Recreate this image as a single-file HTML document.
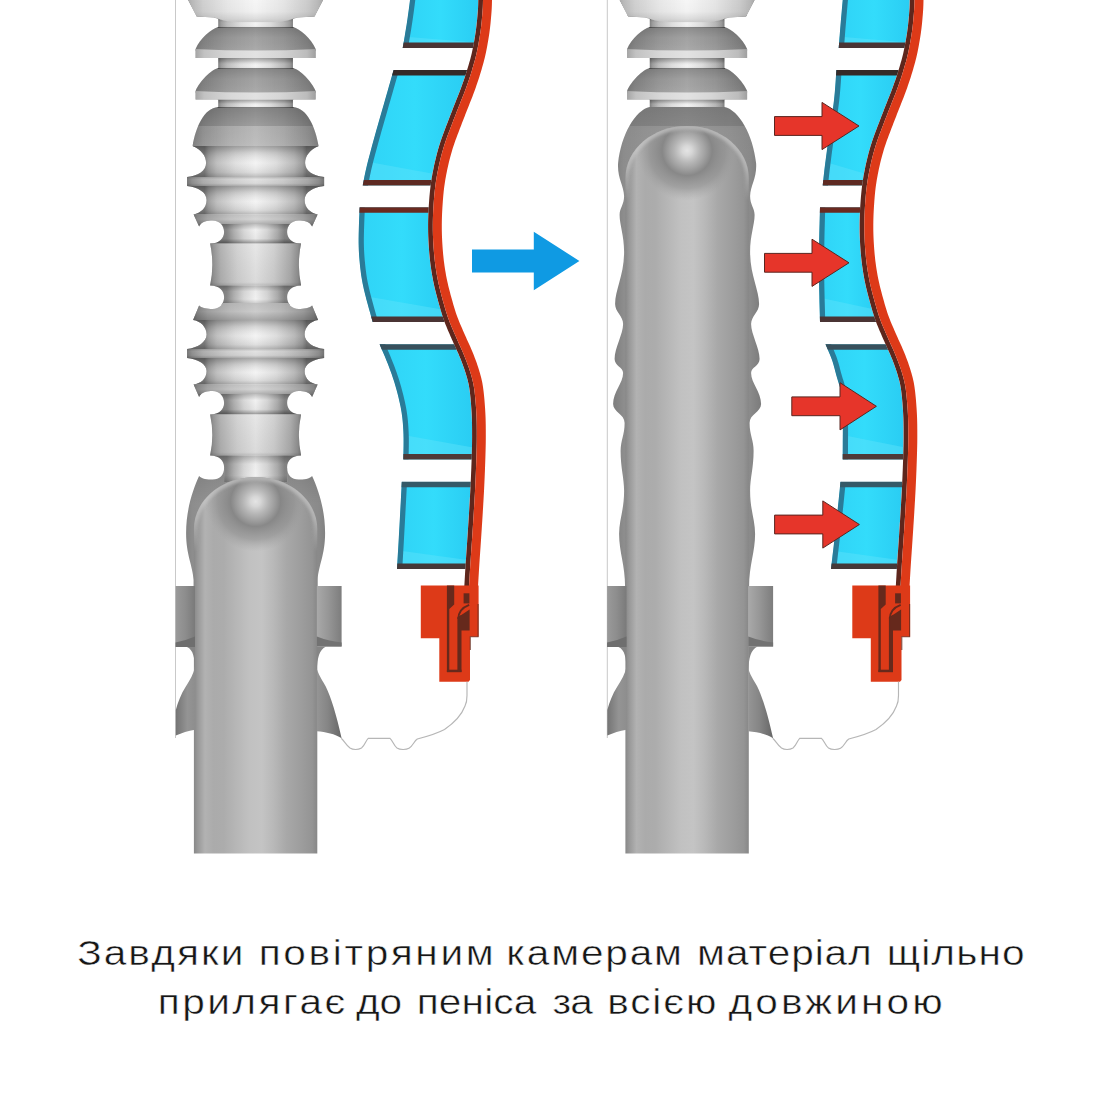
<!DOCTYPE html>
<html lang="uk"><head><meta charset="utf-8"><title>diagram</title>
<style>
html,body{margin:0;padding:0;background:#fff;}
body{width:1100px;height:1100px;position:relative;overflow:hidden;font-family:"Liberation Sans",sans-serif;}
svg{position:absolute;left:0;top:0;display:block;}
.cap{position:absolute;left:0;width:1100px;text-align:center;color:#151515;font-size:35px;line-height:40px;white-space:nowrap;}
#l1{top:933px;}
#l2{top:982px;}
#l1 span,#l2 span{display:inline-block;}
</style></head><body>
<svg width="1100" height="1100" viewBox="0 0 1100 1100">
<defs>
<filter id="blur2" x="-10%" y="-10%" width="120%" height="120%"><feGaussianBlur stdDeviation="1.6"/></filter>
<linearGradient id="LgW" gradientUnits="userSpaceOnUse" x1="186.6" y1="0" x2="324.6" y2="0"><stop offset="0" stop-color="#7e7e7e"/><stop offset="0.04" stop-color="#9c9c9c"/><stop offset="0.12" stop-color="#bcbcbc"/><stop offset="0.3" stop-color="#dedede"/><stop offset="0.5" stop-color="#f3f3f3"/><stop offset="0.7" stop-color="#dcdcdc"/><stop offset="0.88" stop-color="#b6b6b6"/><stop offset="0.96" stop-color="#989898"/><stop offset="1" stop-color="#7a7a7a"/></linearGradient>
<linearGradient id="LgM" gradientUnits="userSpaceOnUse" x1="209.6" y1="0" x2="301.6" y2="0"><stop offset="0" stop-color="#7e7e7e"/><stop offset="0.04" stop-color="#9c9c9c"/><stop offset="0.12" stop-color="#bcbcbc"/><stop offset="0.3" stop-color="#dedede"/><stop offset="0.5" stop-color="#f3f3f3"/><stop offset="0.7" stop-color="#dcdcdc"/><stop offset="0.88" stop-color="#b6b6b6"/><stop offset="0.96" stop-color="#989898"/><stop offset="1" stop-color="#7a7a7a"/></linearGradient>
<linearGradient id="LgN" gradientUnits="userSpaceOnUse" x1="218.1" y1="0" x2="293.1" y2="0"><stop offset="0" stop-color="#7e7e7e"/><stop offset="0.04" stop-color="#9c9c9c"/><stop offset="0.12" stop-color="#bcbcbc"/><stop offset="0.3" stop-color="#dedede"/><stop offset="0.5" stop-color="#f3f3f3"/><stop offset="0.7" stop-color="#dcdcdc"/><stop offset="0.88" stop-color="#b6b6b6"/><stop offset="0.96" stop-color="#989898"/><stop offset="1" stop-color="#7a7a7a"/></linearGradient>
<linearGradient id="LgN2" gradientUnits="userSpaceOnUse" x1="223.6" y1="0" x2="287.6" y2="0"><stop offset="0" stop-color="#858585"/><stop offset="0.05" stop-color="#8a8a8a"/><stop offset="0.16" stop-color="#b2b2b2"/><stop offset="0.32" stop-color="#dcdcdc"/><stop offset="0.5" stop-color="#f6f6f6"/><stop offset="0.68" stop-color="#dadada"/><stop offset="0.84" stop-color="#b0b0b0"/><stop offset="0.95" stop-color="#888888"/><stop offset="1" stop-color="#848484"/></linearGradient>
<linearGradient id="LgG" gradientUnits="userSpaceOnUse" x1="204.6" y1="0" x2="306.6" y2="0"><stop offset="0" stop-color="#7e7e7e"/><stop offset="0.04" stop-color="#9c9c9c"/><stop offset="0.12" stop-color="#bcbcbc"/><stop offset="0.3" stop-color="#dedede"/><stop offset="0.5" stop-color="#f3f3f3"/><stop offset="0.7" stop-color="#dcdcdc"/><stop offset="0.88" stop-color="#b6b6b6"/><stop offset="0.96" stop-color="#989898"/><stop offset="1" stop-color="#7a7a7a"/></linearGradient>
<linearGradient id="LgH" gradientUnits="userSpaceOnUse" x1="192.6" y1="0" x2="318.6" y2="0"><stop offset="0" stop-color="#7e7e7e"/><stop offset="0.04" stop-color="#9c9c9c"/><stop offset="0.12" stop-color="#bcbcbc"/><stop offset="0.3" stop-color="#dedede"/><stop offset="0.5" stop-color="#f3f3f3"/><stop offset="0.7" stop-color="#dcdcdc"/><stop offset="0.88" stop-color="#b6b6b6"/><stop offset="0.96" stop-color="#989898"/><stop offset="1" stop-color="#7a7a7a"/></linearGradient>
<linearGradient id="LgRim" gradientUnits="userSpaceOnUse" x1="194.6" y1="0" x2="316.6" y2="0"><stop offset="0" stop-color="#a2a2a2"/><stop offset="0.08" stop-color="#c2c2c2"/><stop offset="0.3" stop-color="#d9d9d9"/><stop offset="0.5" stop-color="#e2e2e2"/><stop offset="0.7" stop-color="#d6d6d6"/><stop offset="0.92" stop-color="#bcbcbc"/><stop offset="1" stop-color="#9c9c9c"/></linearGradient>
<linearGradient id="LgRod" gradientUnits="userSpaceOnUse" x1="193.9" y1="0" x2="317.3" y2="0"><stop offset="0" stop-color="#888888"/><stop offset="0.03" stop-color="#989898"/><stop offset="0.09" stop-color="#b2b2b2"/><stop offset="0.16" stop-color="#ababab"/><stop offset="0.24" stop-color="#acacac"/><stop offset="0.33" stop-color="#b5b5b5"/><stop offset="0.45" stop-color="#c1c1c1"/><stop offset="0.55" stop-color="#c4c4c4"/><stop offset="0.64" stop-color="#b9b9b9"/><stop offset="0.75" stop-color="#a8a8a8"/><stop offset="0.87" stop-color="#9d9d9d"/><stop offset="0.96" stop-color="#949494"/><stop offset="1" stop-color="#878787"/></linearGradient>
<linearGradient id="LgSkin" gradientUnits="userSpaceOnUse" x1="183.6" y1="0" x2="327.6" y2="0"><stop offset="0" stop-color="#808080"/><stop offset="0.06" stop-color="#8d8d8d"/><stop offset="0.2" stop-color="#949494"/><stop offset="0.5" stop-color="#9d9d9d"/><stop offset="0.8" stop-color="#939393"/><stop offset="0.94" stop-color="#8a8a8a"/><stop offset="1" stop-color="#7e7e7e"/></linearGradient>
<linearGradient id="RgW" gradientUnits="userSpaceOnUse" x1="618.1" y1="0" x2="756.1" y2="0"><stop offset="0" stop-color="#7e7e7e"/><stop offset="0.04" stop-color="#9c9c9c"/><stop offset="0.12" stop-color="#bcbcbc"/><stop offset="0.3" stop-color="#dedede"/><stop offset="0.5" stop-color="#f3f3f3"/><stop offset="0.7" stop-color="#dcdcdc"/><stop offset="0.88" stop-color="#b6b6b6"/><stop offset="0.96" stop-color="#989898"/><stop offset="1" stop-color="#7a7a7a"/></linearGradient>
<linearGradient id="RgM" gradientUnits="userSpaceOnUse" x1="641.1" y1="0" x2="733.1" y2="0"><stop offset="0" stop-color="#7e7e7e"/><stop offset="0.04" stop-color="#9c9c9c"/><stop offset="0.12" stop-color="#bcbcbc"/><stop offset="0.3" stop-color="#dedede"/><stop offset="0.5" stop-color="#f3f3f3"/><stop offset="0.7" stop-color="#dcdcdc"/><stop offset="0.88" stop-color="#b6b6b6"/><stop offset="0.96" stop-color="#989898"/><stop offset="1" stop-color="#7a7a7a"/></linearGradient>
<linearGradient id="RgN" gradientUnits="userSpaceOnUse" x1="649.6" y1="0" x2="724.6" y2="0"><stop offset="0" stop-color="#7e7e7e"/><stop offset="0.04" stop-color="#9c9c9c"/><stop offset="0.12" stop-color="#bcbcbc"/><stop offset="0.3" stop-color="#dedede"/><stop offset="0.5" stop-color="#f3f3f3"/><stop offset="0.7" stop-color="#dcdcdc"/><stop offset="0.88" stop-color="#b6b6b6"/><stop offset="0.96" stop-color="#989898"/><stop offset="1" stop-color="#7a7a7a"/></linearGradient>
<linearGradient id="RgN2" gradientUnits="userSpaceOnUse" x1="655.1" y1="0" x2="719.1" y2="0"><stop offset="0" stop-color="#858585"/><stop offset="0.05" stop-color="#8a8a8a"/><stop offset="0.16" stop-color="#b2b2b2"/><stop offset="0.32" stop-color="#dcdcdc"/><stop offset="0.5" stop-color="#f6f6f6"/><stop offset="0.68" stop-color="#dadada"/><stop offset="0.84" stop-color="#b0b0b0"/><stop offset="0.95" stop-color="#888888"/><stop offset="1" stop-color="#848484"/></linearGradient>
<linearGradient id="RgG" gradientUnits="userSpaceOnUse" x1="636.1" y1="0" x2="738.1" y2="0"><stop offset="0" stop-color="#7e7e7e"/><stop offset="0.04" stop-color="#9c9c9c"/><stop offset="0.12" stop-color="#bcbcbc"/><stop offset="0.3" stop-color="#dedede"/><stop offset="0.5" stop-color="#f3f3f3"/><stop offset="0.7" stop-color="#dcdcdc"/><stop offset="0.88" stop-color="#b6b6b6"/><stop offset="0.96" stop-color="#989898"/><stop offset="1" stop-color="#7a7a7a"/></linearGradient>
<linearGradient id="RgH" gradientUnits="userSpaceOnUse" x1="624.1" y1="0" x2="750.1" y2="0"><stop offset="0" stop-color="#7e7e7e"/><stop offset="0.04" stop-color="#9c9c9c"/><stop offset="0.12" stop-color="#bcbcbc"/><stop offset="0.3" stop-color="#dedede"/><stop offset="0.5" stop-color="#f3f3f3"/><stop offset="0.7" stop-color="#dcdcdc"/><stop offset="0.88" stop-color="#b6b6b6"/><stop offset="0.96" stop-color="#989898"/><stop offset="1" stop-color="#7a7a7a"/></linearGradient>
<linearGradient id="RgRim" gradientUnits="userSpaceOnUse" x1="626.1" y1="0" x2="748.1" y2="0"><stop offset="0" stop-color="#a2a2a2"/><stop offset="0.08" stop-color="#c2c2c2"/><stop offset="0.3" stop-color="#d9d9d9"/><stop offset="0.5" stop-color="#e2e2e2"/><stop offset="0.7" stop-color="#d6d6d6"/><stop offset="0.92" stop-color="#bcbcbc"/><stop offset="1" stop-color="#9c9c9c"/></linearGradient>
<linearGradient id="RgRod" gradientUnits="userSpaceOnUse" x1="625.4" y1="0" x2="748.8" y2="0"><stop offset="0" stop-color="#888888"/><stop offset="0.03" stop-color="#989898"/><stop offset="0.09" stop-color="#b2b2b2"/><stop offset="0.16" stop-color="#ababab"/><stop offset="0.24" stop-color="#acacac"/><stop offset="0.33" stop-color="#b5b5b5"/><stop offset="0.45" stop-color="#c1c1c1"/><stop offset="0.55" stop-color="#c4c4c4"/><stop offset="0.64" stop-color="#b9b9b9"/><stop offset="0.75" stop-color="#a8a8a8"/><stop offset="0.87" stop-color="#9d9d9d"/><stop offset="0.96" stop-color="#949494"/><stop offset="1" stop-color="#878787"/></linearGradient>
<linearGradient id="RgSkin" gradientUnits="userSpaceOnUse" x1="615.1" y1="0" x2="759.1" y2="0"><stop offset="0" stop-color="#808080"/><stop offset="0.06" stop-color="#8d8d8d"/><stop offset="0.2" stop-color="#949494"/><stop offset="0.5" stop-color="#9d9d9d"/><stop offset="0.8" stop-color="#939393"/><stop offset="0.94" stop-color="#8a8a8a"/><stop offset="1" stop-color="#7e7e7e"/></linearGradient>
<radialGradient id="LrDome" gradientUnits="userSpaceOnUse" cx="255.6" cy="501.5" r="50"><stop offset="0" stop-color="#e4e4e4" stop-opacity="1"/><stop offset="0.10" stop-color="#d8d8d8" stop-opacity="0.95"/><stop offset="0.27" stop-color="#b0b0b0" stop-opacity="0.85"/><stop offset="0.5" stop-color="#828282" stop-opacity="0.9"/><stop offset="0.76" stop-color="#8a8a8a" stop-opacity="0.55"/><stop offset="1" stop-color="#a0a0a0" stop-opacity="0"/></radialGradient>
<radialGradient id="RrDome" gradientUnits="userSpaceOnUse" cx="687.1" cy="150.5" r="50"><stop offset="0" stop-color="#e4e4e4" stop-opacity="1"/><stop offset="0.10" stop-color="#d8d8d8" stop-opacity="0.95"/><stop offset="0.27" stop-color="#b0b0b0" stop-opacity="0.85"/><stop offset="0.5" stop-color="#828282" stop-opacity="0.9"/><stop offset="0.76" stop-color="#8a8a8a" stop-opacity="0.55"/><stop offset="1" stop-color="#a0a0a0" stop-opacity="0"/></radialGradient>
<linearGradient id="vShadowTop" x1="0" y1="0" x2="0" y2="1"><stop offset="0" stop-color="#000" stop-opacity="0.32"/><stop offset="0.35" stop-color="#000" stop-opacity="0.12"/><stop offset="0.7" stop-color="#fff" stop-opacity="0.0"/><stop offset="1" stop-color="#000" stop-opacity="0.06"/></linearGradient>
<linearGradient id="vDome" x1="0" y1="0" x2="0" y2="1"><stop offset="0" stop-color="#000" stop-opacity="0.16"/><stop offset="0.45" stop-color="#000" stop-opacity="0.03"/><stop offset="1" stop-color="#fff" stop-opacity="0.05"/></linearGradient>
<linearGradient id="vTopPiece" x1="0" y1="0" x2="0" y2="1"><stop offset="0" stop-color="#000" stop-opacity="0.0"/><stop offset="0.55" stop-color="#000" stop-opacity="0.02"/><stop offset="0.85" stop-color="#000" stop-opacity="0.1"/><stop offset="1" stop-color="#000" stop-opacity="0.16"/></linearGradient>
<linearGradient id="vGroove" x1="0" y1="0" x2="0" y2="1"><stop offset="0" stop-color="#000" stop-opacity="0.3"/><stop offset="0.22" stop-color="#000" stop-opacity="0.12"/><stop offset="0.55" stop-color="#fff" stop-opacity="0.05"/><stop offset="0.85" stop-color="#000" stop-opacity="0.08"/><stop offset="1" stop-color="#000" stop-opacity="0.22"/></linearGradient>
<linearGradient id="vFlange" x1="0" y1="0" x2="0" y2="1"><stop offset="0" stop-color="#000" stop-opacity="0.2"/><stop offset="0.25" stop-color="#000" stop-opacity="0.07"/><stop offset="0.7" stop-color="#000" stop-opacity="0.1"/><stop offset="1" stop-color="#000" stop-opacity="0.26"/></linearGradient>
<linearGradient id="vHookD" x1="0" y1="0" x2="0" y2="1"><stop offset="0" stop-color="#000" stop-opacity="0.16"/><stop offset="0.5" stop-color="#000" stop-opacity="0.12"/><stop offset="1" stop-color="#000" stop-opacity="0.26"/></linearGradient>
<linearGradient id="vHookU" x1="0" y1="0" x2="0" y2="1"><stop offset="0" stop-color="#000" stop-opacity="0.2"/><stop offset="0.5" stop-color="#000" stop-opacity="0.16"/><stop offset="1" stop-color="#000" stop-opacity="0.3"/></linearGradient>
<linearGradient id="vNeckA" x1="0" y1="0" x2="0" y2="1"><stop offset="0" stop-color="#000" stop-opacity="0.22"/><stop offset="0.3" stop-color="#000" stop-opacity="0.02"/><stop offset="0.75" stop-color="#000" stop-opacity="0.06"/><stop offset="1" stop-color="#000" stop-opacity="0.4"/></linearGradient>
<linearGradient id="vNeckB" x1="0" y1="0" x2="0" y2="1"><stop offset="0" stop-color="#000" stop-opacity="0.25"/><stop offset="0.3" stop-color="#000" stop-opacity="0.04"/><stop offset="0.7" stop-color="#000" stop-opacity="0.02"/><stop offset="1" stop-color="#000" stop-opacity="0.22"/></linearGradient>
<linearGradient id="vBody" x1="0" y1="0" x2="0" y2="1"><stop offset="0" stop-color="#000" stop-opacity="0.05"/><stop offset="0.5" stop-color="#000" stop-opacity="0.08"/><stop offset="0.92" stop-color="#000" stop-opacity="0.1"/><stop offset="1" stop-color="#000" stop-opacity="0.2"/></linearGradient>
<linearGradient id="vSkinL" x1="0" y1="0" x2="0" y2="1"><stop offset="0" stop-color="#000" stop-opacity="0.12"/><stop offset="0.3" stop-color="#000" stop-opacity="0.0"/><stop offset="1" stop-color="#000" stop-opacity="0.0"/></linearGradient>
<linearGradient id="vSkinTop" x1="0" y1="0" x2="0" y2="1"><stop offset="0" stop-color="#000" stop-opacity="0.1"/><stop offset="0.4" stop-color="#000" stop-opacity="0.02"/><stop offset="1" stop-color="#000" stop-opacity="0.0"/></linearGradient>
<linearGradient id="gBlue" x1="0" y1="0" x2="1" y2="0"><stop offset="0" stop-color="#2fd3f6"/><stop offset="0.5" stop-color="#33dcfb"/><stop offset="1" stop-color="#2acdf3"/></linearGradient>
<linearGradient id="gColL" x1="0" y1="0" x2="1" y2="0"><stop offset="0" stop-color="#9a9a9a"/><stop offset="0.5" stop-color="#8d8d8d"/><stop offset="1" stop-color="#7a7a7a"/></linearGradient>
<linearGradient id="gColR" x1="0" y1="0" x2="1" y2="0"><stop offset="0" stop-color="#a9a9a9"/><stop offset="0.45" stop-color="#979797"/><stop offset="1" stop-color="#7d7d7d"/></linearGradient>
<linearGradient id="gFlL" x1="0" y1="0" x2="1" y2="0"><stop offset="0" stop-color="#747474"/><stop offset="0.6" stop-color="#949494"/><stop offset="1" stop-color="#8e8e8e"/></linearGradient>
<linearGradient id="gFlR" x1="0" y1="0" x2="1" y2="0"><stop offset="0" stop-color="#959595"/><stop offset="0.45" stop-color="#858585"/><stop offset="1" stop-color="#666666"/></linearGradient>
</defs>
<rect width="1100" height="1100" fill="#ffffff"/>
<g id="figL"><rect x="175" y="0" width="1" height="738" fill="#c9c9c9"/><path d="M287.1,468 C287.1,475 291.6,479.5 298.6,479.5 C303.6,479.5 309.6,479 312.1,476 C318.6,490 325.1,510 325.1,533 C325.1,555 318.6,565 317.6,580 L317.6,587 L193.6,587 L193.6,580 C192.6,565 186.1,555 186.1,533 C186.1,510 192.6,490 199.1,476 C201.6,479 207.6,479.5 212.6,479.5 C219.6,479.5 224.1,475 224.1,468 Z" fill="url(#LgSkin)"/><path d="M287.1,468 C287.1,475 291.6,479.5 298.6,479.5 C303.6,479.5 309.6,479 312.1,476 C318.6,490 325.1,510 325.1,533 C325.1,555 318.6,565 317.6,580 L317.6,587 L193.6,587 L193.6,580 C192.6,565 186.1,555 186.1,533 C186.1,510 192.6,490 199.1,476 C201.6,479 207.6,479.5 212.6,479.5 C219.6,479.5 224.1,475 224.1,468 Z" fill="url(#vSkinL)"/><clipPath id="LclipS"><path d="M323.1,0 L314.6,16.4 L297.6,17.6 L292.9,19 L292.9,27 C299.6,28.5 311.6,39 315.6,49 L315.6,58 L292.9,58 L292.9,68 C299.6,69.5 311.6,81 315.6,91 L315.6,99.5 L292.9,99.5 L292.9,107 C307.6,108 315.6,128 318.6,146 C309.6,150 305.1,156 305.1,163 C305.1,171 313.6,176 324.1,177 L324.1,186 C313.6,187 304.6,192 304.6,200 C304.6,208 310.6,213 317.6,214.5 L312.1,226.4 C309.6,221.3 303.6,220.5 298.6,220.5 C291.6,220.5 287.1,225.5 287.1,232 C287.1,238 291.6,243.6 301.1,243.6 Q296.6,265 301.1,285.5 C291.6,285.5 287.1,291 287.1,297 C287.1,304 291.6,309 298.6,309 C303.6,309 309.6,308.2 312.1,305.5 L318.1,320 C310.6,321 304.6,327 304.6,334.5 C304.6,342 313.6,348 324.1,349 L324.1,358 C313.6,359 304.6,364 304.6,371 C304.6,379 310.6,383.5 317.6,384.5 L312.1,397 C309.6,391.8 303.6,391 298.6,391 C291.6,391 287.1,396 287.1,403 C287.1,409 291.6,414.5 301.1,414.5 Q296.6,435 301.1,455.5 C291.6,455.5 287.1,461 287.1,467 L287.1,482 L224.1,482 L224.1,467 C224.1,461 219.6,455.5 210.1,455.5 Q214.6,435 210.1,414.5 C219.6,414.5 224.1,409 224.1,403 C224.1,396 219.6,391 212.6,391 C207.6,391 201.6,391.8 199.1,397 L193.6,384.5 C200.6,383.5 206.6,379 206.6,371 C206.6,364 197.6,359 187.1,358 L187.1,349 C197.6,348 206.6,342 206.6,334.5 C206.6,327 200.6,321 193.1,320 L199.1,305.5 C201.6,308.2 207.6,309 212.6,309 C219.6,309 224.1,304 224.1,297 C224.1,291 219.6,285.5 210.1,285.5 Q214.6,265 210.1,243.6 C219.6,243.6 224.1,238 224.1,232 C224.1,225.5 219.6,220.5 212.6,220.5 C207.6,220.5 201.6,221.3 199.1,226.4 L193.6,214.5 C200.6,213 206.6,208 206.6,200 C206.6,192 197.6,187 187.1,186 L187.1,177 C197.6,176 206.1,171 206.1,163 C206.1,156 201.6,150 192.6,146 C195.6,128 203.6,108 218.3,107 L218.3,99.5 L195.6,99.5 L195.6,91 C199.6,81 211.6,69.5 218.3,68 L218.3,58 L195.6,58 L195.6,49 C199.6,39 211.6,28.5 218.3,27 L218.3,19 L213.6,17.6 L196.6,16.4 L188.1,0 Z"/></clipPath>
<g clip-path="url(#LclipS)"><rect x="180.6" y="-2" width="150" height="490" fill="url(#LgW)"/><rect x="217.6" y="15" width="76" height="13" fill="url(#LgN)"/><rect x="180.6" y="15" width="150" height="13" fill="url(#vShadowTop)"/><rect x="217.6" y="58" width="76" height="11" fill="url(#LgN)"/><rect x="180.6" y="58" width="150" height="11" fill="url(#vShadowTop)"/><rect x="217.6" y="99.5" width="76" height="8.5" fill="url(#LgN)"/><rect x="180.6" y="99.5" width="150" height="8.5" fill="url(#vShadowTop)"/><path d="M187.3,-1 L323.9,-1 L314.6,16.4 L297.6,17.6 C292.6,18.2 289.6,21.6 273.6,22 L237.6,22 C221.6,21.6 218.6,18.2 213.6,17.6 L196.6,16.4 Z" fill="url(#LgW)"/><path d="M187.3,-1 L323.9,-1 L314.6,16.4 L297.6,17.6 C292.6,18.2 289.6,21.6 273.6,22 L237.6,22 C221.6,21.6 218.6,18.2 213.6,17.6 L196.6,16.4 Z" fill="#ffffff" opacity="0.30"/><path d="M187.3,-1 L323.9,-1 L314.6,16.4 L297.6,17.6 C292.6,18.2 289.6,21.6 273.6,22 L237.6,22 C221.6,21.6 218.6,18.2 213.6,17.6 L196.6,16.4 Z" fill="url(#vTopPiece)"/><rect x="180.6" y="27" width="150" height="24" fill="#000000" opacity="0.31"/><rect x="180.6" y="27" width="150" height="24" fill="url(#vDome)"/><path d="M194.6,49 Q255.6,52 316.6,49 L316.6,58 L194.6,58 Z" fill="url(#LgRim)"/><rect x="180.6" y="68" width="150" height="25" fill="#000000" opacity="0.31"/><rect x="180.6" y="68" width="150" height="25" fill="url(#vDome)"/><path d="M194.6,91 Q255.6,94 316.6,91 L316.6,99.5 L194.6,99.5 Z" fill="url(#LgRim)"/><rect x="180.6" y="107" width="150" height="19" fill="#000000" opacity="0.33"/><rect x="180.6" y="126" width="150" height="21" fill="#000000" opacity="0.22"/><rect x="180.6" y="107" width="150" height="40" fill="url(#vDome)"/><rect x="180.6" y="146" width="150" height="31" fill="url(#LgG)"/><rect x="180.6" y="146" width="150" height="31" fill="url(#vGroove)"/><rect x="180.6" y="177" width="150" height="9" fill="url(#LgW)"/><rect x="180.6" y="177" width="150" height="9" fill="url(#vFlange)"/><rect x="180.6" y="186" width="150" height="28.5" fill="url(#LgG)"/><rect x="180.6" y="186" width="150" height="28.5" fill="url(#vGroove)"/><rect x="180.6" y="214.5" width="150" height="9.5" fill="url(#LgH)"/><rect x="180.6" y="214.5" width="150" height="9.5" fill="url(#vHookD)"/><rect x="180.6" y="224" width="150" height="19.6" fill="url(#LgN2)"/><rect x="180.6" y="224" width="150" height="19.6" fill="url(#vNeckA)"/><rect x="180.6" y="243.6" width="150" height="41.9" fill="url(#LgM)"/><rect x="180.6" y="243.6" width="150" height="41.9" fill="url(#vBody)"/><rect x="180.6" y="285.5" width="150" height="19.5" fill="url(#LgN2)"/><rect x="180.6" y="285.5" width="150" height="19.5" fill="url(#vNeckB)"/><rect x="180.6" y="303" width="150" height="17" fill="url(#LgH)"/><rect x="180.6" y="303" width="150" height="17" fill="url(#vHookU)"/><rect x="180.6" y="320" width="150" height="29" fill="url(#LgG)"/><rect x="180.6" y="320" width="150" height="29" fill="url(#vGroove)"/><rect x="180.6" y="349" width="150" height="9" fill="url(#LgW)"/><rect x="180.6" y="349" width="150" height="9" fill="url(#vFlange)"/><rect x="180.6" y="358" width="150" height="26.5" fill="url(#LgG)"/><rect x="180.6" y="358" width="150" height="26.5" fill="url(#vGroove)"/><rect x="180.6" y="384.5" width="150" height="9.5" fill="url(#LgH)"/><rect x="180.6" y="384.5" width="150" height="9.5" fill="url(#vHookD)"/><rect x="180.6" y="394" width="150" height="20.5" fill="url(#LgN2)"/><rect x="180.6" y="394" width="150" height="20.5" fill="url(#vNeckA)"/><rect x="180.6" y="414.5" width="150" height="41" fill="url(#LgM)"/><rect x="180.6" y="414.5" width="150" height="41" fill="url(#vBody)"/><rect x="180.6" y="455.5" width="150" height="28.5" fill="url(#LgN2)"/><rect x="180.6" y="455.5" width="150" height="28.5" fill="url(#vNeckB)"/></g>
<path d="M255.6,477 C289.68,477 317.3,500.28 317.3,529 L317.3,853.5 L193.9,853.5 L193.9,529 C193.9,500.28 221.52,477 255.6,477 Z" fill="url(#LgRod)"/><clipPath id="LclipR"><path d="M255.6,477 C289.68,477 317.3,500.28 317.3,529 L317.3,853.5 L193.9,853.5 L193.9,529 C193.9,500.28 221.52,477 255.6,477 Z"/></clipPath><linearGradient id="Lmg" gradientUnits="userSpaceOnUse" x1="0" y1="477" x2="0" y2="552"><stop offset="0" stop-color="#fff"/><stop offset="0.55" stop-color="#fff"/><stop offset="1" stop-color="#000"/></linearGradient><mask id="Lmask" maskUnits="userSpaceOnUse" x="175.6" y="467" width="160" height="100"><rect x="175.6" y="467" width="160" height="100" fill="url(#Lmg)"/></mask><g clip-path="url(#LclipR)"><circle cx="255.6" cy="501.5" r="50" fill="url(#LrDome)"/><g mask="url(#Lmask)"><path d="M255.6,477 C289.68,477 317.3,500.28 317.3,529 L317.3,853.5 L193.9,853.5 L193.9,529 C193.9,500.28 221.52,477 255.6,477 Z" fill="none" stroke="#cdcdcd" stroke-opacity="0.6" stroke-width="7" filter="url(#blur2)"/></g></g><rect x="175.6" y="586" width="19.4" height="60.8" fill="url(#gColL)"/><rect x="316.8" y="586" width="24.8" height="60.5" fill="url(#gColR)"/><path d="M175.6,642.5 Q186,640.5 195,636.5 L195,647 L175.6,647 Z" fill="#6e6e6e"/><path d="M341.6,642.5 Q328,641 316.8,636.5 L316.8,646.5 L341.6,646.5 Z" fill="#727272"/><path d="M187,647 L195,647 L195,668 C194.5,658 193.5,650 187,647 Z" fill="#858585"/><path d="M326,646.5 L316.8,646.5 L316.8,670 C317.5,658 319,650 326,646.5 Z" fill="#858585"/><path d="M195,667 C193.5,674 190,680 185.7,686.7 C181,694 178,702 175.8,710 L175.8,735.5 C182,733 188,731 195,729.8 Z" fill="url(#gFlL)"/><path d="M316.8,669 C319.5,677 323.5,682 325.5,686 C331,697 336.5,715 341.6,738.3 C335,734 326,732 316.8,731.3 Z" fill="url(#gFlR)"/></g>
<g id="figR"><rect x="606.8" y="0" width="1" height="738" fill="#c9c9c9"/><clipPath id="RclipS"><path d="M754.6,0 L746.1,16.4 L729.1,17.6 L724.4,19 L724.4,27 C731.1,28.5 743.1,39 747.1,49 L747.1,58 L724.4,58 L724.4,68 C731.1,69.5 743.1,81 747.1,91 L747.1,99.5 L724.4,99.5 L724.4,107 L724.4,110 L649.8,110 L649.8,107 L649.8,99.5 L627.1,99.5 L627.1,91 C631.1,81 643.1,69.5 649.8,68 L649.8,58 L627.1,58 L627.1,49 C631.1,39 643.1,28.5 649.8,27 L649.8,19 L645.1,17.6 L628.1,16.4 L619.6,0 Z"/></clipPath>
<g clip-path="url(#RclipS)"><rect x="612.1" y="-2" width="150" height="120" fill="url(#RgW)"/><rect x="649.1" y="15" width="76" height="13" fill="url(#RgN)"/><rect x="612.1" y="15" width="150" height="13" fill="url(#vShadowTop)"/><rect x="649.1" y="58" width="76" height="11" fill="url(#RgN)"/><rect x="612.1" y="58" width="150" height="11" fill="url(#vShadowTop)"/><rect x="649.1" y="99.5" width="76" height="8.5" fill="url(#RgN)"/><rect x="612.1" y="99.5" width="150" height="8.5" fill="url(#vShadowTop)"/><path d="M618.8,-1 L755.4,-1 L746.1,16.4 L729.1,17.6 C724.1,18.2 721.1,21.6 705.1,22 L669.1,22 C653.1,21.6 650.1,18.2 645.1,17.6 L628.1,16.4 Z" fill="url(#RgW)"/><path d="M618.8,-1 L755.4,-1 L746.1,16.4 L729.1,17.6 C724.1,18.2 721.1,21.6 705.1,22 L669.1,22 C653.1,21.6 650.1,18.2 645.1,17.6 L628.1,16.4 Z" fill="#ffffff" opacity="0.30"/><path d="M618.8,-1 L755.4,-1 L746.1,16.4 L729.1,17.6 C724.1,18.2 721.1,21.6 705.1,22 L669.1,22 C653.1,21.6 650.1,18.2 645.1,17.6 L628.1,16.4 Z" fill="url(#vTopPiece)"/><rect x="612.1" y="27" width="150" height="24" fill="#000000" opacity="0.31"/><rect x="612.1" y="27" width="150" height="24" fill="url(#vDome)"/><path d="M626.1,49 Q687.1,52 748.1,49 L748.1,58 L626.1,58 Z" fill="url(#RgRim)"/><rect x="612.1" y="68" width="150" height="25" fill="#000000" opacity="0.31"/><rect x="612.1" y="68" width="150" height="25" fill="url(#vDome)"/><path d="M626.1,91 Q687.1,94 748.1,91 L748.1,99.5 L626.1,99.5 Z" fill="url(#RgRim)"/></g>
<path d="M724.4,107 C739.1,110 753.1,135 756.1,163 C757.1,178 750.6,185 750.1,196 C750.1,205 754.6,208 754.6,215 C754.6,225 750.1,235 750.1,252 C750.1,275 759.1,290 759.1,304 C759.1,312 751.1,316 751.1,324 C751.1,334 759.6,348 759.6,359 C759.6,366 751.1,367 751.1,373 C751.1,383 761.1,392 761.1,404 C761.1,412 749.6,414 749.6,423 C749.6,435 753.6,440 753.6,451 C753.6,468 750.1,478 750.1,491 C750.1,510 755.1,520 755.1,534 C755.1,552 749.1,565 749.1,587 L625.1,587 C625.1,565 619.1,552 619.1,534 C619.1,520 624.1,510 624.1,491 C624.1,478 620.6,468 620.6,451 C620.6,440 624.6,435 624.6,423 C624.6,414 613.1,412 613.1,404 C613.1,392 623.1,383 623.1,373 C623.1,367 614.6,366 614.6,359 C614.6,348 623.1,334 623.1,324 C623.1,316 615.1,312 615.1,304 C615.1,290 624.1,275 624.1,252 C624.1,235 619.6,225 619.6,215 C619.6,208 624.1,205 624.1,196 C623.6,185 617.1,178 618.1,163 C621.1,135 635.1,110 649.8,107 Z" fill="url(#RgSkin)"/><clipPath id="RclipK"><path d="M724.4,107 C739.1,110 753.1,135 756.1,163 C757.1,178 750.6,185 750.1,196 C750.1,205 754.6,208 754.6,215 C754.6,225 750.1,235 750.1,252 C750.1,275 759.1,290 759.1,304 C759.1,312 751.1,316 751.1,324 C751.1,334 759.6,348 759.6,359 C759.6,366 751.1,367 751.1,373 C751.1,383 761.1,392 761.1,404 C761.1,412 749.6,414 749.6,423 C749.6,435 753.6,440 753.6,451 C753.6,468 750.1,478 750.1,491 C750.1,510 755.1,520 755.1,534 C755.1,552 749.1,565 749.1,587 L625.1,587 C625.1,565 619.1,552 619.1,534 C619.1,520 624.1,510 624.1,491 C624.1,478 620.6,468 620.6,451 C620.6,440 624.6,435 624.6,423 C624.6,414 613.1,412 613.1,404 C613.1,392 623.1,383 623.1,373 C623.1,367 614.6,366 614.6,359 C614.6,348 623.1,334 623.1,324 C623.1,316 615.1,312 615.1,304 C615.1,290 624.1,275 624.1,252 C624.1,235 619.6,225 619.6,215 C619.6,208 624.1,205 624.1,196 C623.6,185 617.1,178 618.1,163 C621.1,135 635.1,110 649.8,107 Z"/></clipPath><g clip-path="url(#RclipK)"><rect x="612.1" y="106" width="150" height="20" fill="#000000" opacity="0.1"/><rect x="612.1" y="106" width="150" height="64" fill="url(#vSkinTop)"/></g><path d="M687.1,126 C721.18,126 748.8,149.28 748.8,178 L748.8,853.5 L625.4,853.5 L625.4,178 C625.4,149.28 653.02,126 687.1,126 Z" fill="url(#RgRod)"/><clipPath id="RclipR"><path d="M687.1,126 C721.18,126 748.8,149.28 748.8,178 L748.8,853.5 L625.4,853.5 L625.4,178 C625.4,149.28 653.02,126 687.1,126 Z"/></clipPath><linearGradient id="Rmg" gradientUnits="userSpaceOnUse" x1="0" y1="126" x2="0" y2="201"><stop offset="0" stop-color="#fff"/><stop offset="0.55" stop-color="#fff"/><stop offset="1" stop-color="#000"/></linearGradient><mask id="Rmask" maskUnits="userSpaceOnUse" x="607.1" y="116" width="160" height="100"><rect x="607.1" y="116" width="160" height="100" fill="url(#Rmg)"/></mask><g clip-path="url(#RclipR)"><circle cx="687.1" cy="150.5" r="50" fill="url(#RrDome)"/><g mask="url(#Rmask)"><path d="M687.1,126 C721.18,126 748.8,149.28 748.8,178 L748.8,853.5 L625.4,853.5 L625.4,178 C625.4,149.28 653.02,126 687.1,126 Z" fill="none" stroke="#cdcdcd" stroke-opacity="0.6" stroke-width="7" filter="url(#blur2)"/></g></g><rect x="607.1" y="586" width="19.4" height="60.8" fill="url(#gColL)"/><rect x="748.3" y="586" width="24.8" height="60.5" fill="url(#gColR)"/><path d="M607.1,642.5 Q617.5,640.5 626.5,636.5 L626.5,647 L607.1,647 Z" fill="#6e6e6e"/><path d="M773.1,642.5 Q759.5,641 748.3,636.5 L748.3,646.5 L773.1,646.5 Z" fill="#727272"/><path d="M618.5,647 L626.5,647 L626.5,668 C626,658 625,650 618.5,647 Z" fill="#858585"/><path d="M757.5,646.5 L748.3,646.5 L748.3,670 C749,658 750.5,650 757.5,646.5 Z" fill="#858585"/><path d="M626.5,667 C625,674 621.5,680 617.2,686.7 C612.5,694 609.5,702 607.3,710 L607.3,735.5 C613.5,733 619.5,731 626.5,729.8 Z" fill="url(#gFlL)"/><path d="M748.3,669 C751,677 755,682 757,686 C762.5,697 768,715 773.1,738.3 C766.5,734 757.5,732 748.3,731.3 Z" fill="url(#gFlR)"/></g>
<g id="wallL"><clipPath id="Lc0"><path d="M410.5,-6 L410.48,-5.65 L410.47,-5.3 L410.46,-4.89 L410.44,-4.38 L410.39,-3.69 L410.31,-2.77 L410.19,-1.56 L410,0 L409.75,1.96 L409.46,4.28 L409.12,6.9 L408.74,9.75 L408.33,12.75 L407.9,15.84 L407.45,18.95 L407,22 L406.5,25.24 L405.92,28.83 L405.29,32.6 L404.66,36.38 L404.05,39.98 L403.5,43.23 L403.04,45.97 L402.7,48 L472.87,48 L472.96,47.53 L473.38,45.39 L473.79,43.19 L474.2,40.96 L474.59,38.72 L474.96,36.49 L475.31,34.29 L475.64,32.15 L475.93,30.1 L476.2,28.11 L476.45,26.11 L476.67,24.09 L476.88,22.06 L477.08,20.06 L477.26,18.1 L477.42,16.19 L477.57,14.34 L477.71,12.59 L477.84,10.97 L477.94,9.52 L478.03,8.2 L478.09,6.96 L478.14,5.79 L478.18,4.68 L478.21,3.62 L478.24,2.59 L478.26,1.59 L478.28,0.6 L478.3,-0.33 L478.32,-1.13 L478.33,-1.82 L478.34,-2.47 L478.34,-3.06 L478.33,-3.61 L478.33,-4.12 L478.32,-4.6 L478.31,-5.06 L478.3,-5.52 L478.3,-5.91 L461.81,-6 Z"/></clipPath>
<g clip-path="url(#Lc0)"><path d="M410.5,-6 L410.48,-5.65 L410.47,-5.3 L410.46,-4.89 L410.44,-4.38 L410.39,-3.69 L410.31,-2.77 L410.19,-1.56 L410,0 L409.75,1.96 L409.46,4.28 L409.12,6.9 L408.74,9.75 L408.33,12.75 L407.9,15.84 L407.45,18.95 L407,22 L406.5,25.24 L405.92,28.83 L405.29,32.6 L404.66,36.38 L404.05,39.98 L403.5,43.23 L403.04,45.97 L402.7,48 L472.87,48 L472.96,47.53 L473.38,45.39 L473.79,43.19 L474.2,40.96 L474.59,38.72 L474.96,36.49 L475.31,34.29 L475.64,32.15 L475.93,30.1 L476.2,28.11 L476.45,26.11 L476.67,24.09 L476.88,22.06 L477.08,20.06 L477.26,18.1 L477.42,16.19 L477.57,14.34 L477.71,12.59 L477.84,10.97 L477.94,9.52 L478.03,8.2 L478.09,6.96 L478.14,5.79 L478.18,4.68 L478.21,3.62 L478.24,2.59 L478.26,1.59 L478.28,0.6 L478.3,-0.33 L478.32,-1.13 L478.33,-1.82 L478.34,-2.47 L478.34,-3.06 L478.33,-3.61 L478.33,-4.12 L478.32,-4.6 L478.31,-5.06 L478.3,-5.52 L478.3,-5.91 L461.81,-6 Z" fill="url(#gBlue)"/><path d="M398.7,36.12 L476.87,42.6 L476.87,50 L398.7,50 Z" fill="#5fe3fb" opacity="0.45"/><path d="M410.5,-6 L410.48,-5.65 L410.47,-5.3 L410.46,-4.89 L410.44,-4.38 L410.39,-3.69 L410.31,-2.77 L410.19,-1.56 L410,0 L409.75,1.96 L409.46,4.28 L409.12,6.9 L408.74,9.75 L408.33,12.75 L407.9,15.84 L407.45,18.95 L407,22 L406.5,25.24 L405.92,28.83 L405.29,32.6 L404.66,36.38 L404.05,39.98 L403.5,43.23 L403.04,45.97 L402.7,48" fill="none" stroke="#2a7b98" stroke-width="10.5"/><path d="M407.5,-6 L464.81,-6" fill="none" stroke="#3a3433" stroke-width="11"/><path d="M399.7,48 L475.87,48" fill="none" stroke="#4a3434" stroke-width="11"/></g>
<clipPath id="Lc1"><path d="M393.6,70 L392.95,72.28 L392.09,75.27 L391.07,78.83 L389.93,82.81 L388.71,87.07 L387.45,91.45 L386.2,95.81 L385,100 L383.8,104.17 L382.55,108.52 L381.26,112.98 L379.96,117.5 L378.67,122.02 L377.39,126.48 L376.16,130.83 L375,135 L373.88,139.05 L372.77,143.07 L371.69,147.03 L370.64,150.91 L369.64,154.67 L368.69,158.29 L367.81,161.74 L367,165 L366.26,168.16 L365.56,171.27 L364.93,174.28 L364.35,177.12 L363.83,179.73 L363.39,182.04 L363.01,183.98 L362.7,185.5 L430.61,185.5 L430.63,185.35 L430.94,183.07 L431.27,180.8 L431.64,178.52 L432.03,176.24 L432.43,173.97 L432.86,171.72 L433.3,169.48 L433.75,167.28 L434.21,165.11 L434.68,162.99 L435.15,160.92 L435.63,158.89 L436.11,156.92 L436.6,154.98 L437.1,153.08 L437.61,151.2 L438.15,149.33 L438.69,147.46 L439.26,145.59 L439.85,143.69 L440.48,141.75 L441.14,139.74 L441.85,137.7 L442.57,135.68 L443.31,133.67 L444.05,131.68 L444.8,129.7 L445.54,127.76 L446.28,125.85 L446.99,123.98 L447.69,122.13 L448.4,120.27 L449.12,118.41 L449.83,116.57 L450.54,114.75 L451.24,112.94 L451.95,111.15 L452.65,109.36 L453.34,107.59 L454.04,105.81 L454.74,104.02 L455.46,102.19 L456.18,100.35 L456.9,98.54 L457.62,96.74 L458.32,94.96 L459.02,93.2 L459.7,91.46 L460.36,89.74 L461,88.03 L461.62,86.33 L462.24,84.6 L462.85,82.87 L463.46,81.14 L464.05,79.41 L464.63,77.69 L465.2,75.96 L465.76,74.24 L466.31,72.51 L466.85,70.78 L467.09,70 Z"/></clipPath>
<g clip-path="url(#Lc1)"><path d="M393.6,70 L392.95,72.28 L392.09,75.27 L391.07,78.83 L389.93,82.81 L388.71,87.07 L387.45,91.45 L386.2,95.81 L385,100 L383.8,104.17 L382.55,108.52 L381.26,112.98 L379.96,117.5 L378.67,122.02 L377.39,126.48 L376.16,130.83 L375,135 L373.88,139.05 L372.77,143.07 L371.69,147.03 L370.64,150.91 L369.64,154.67 L368.69,158.29 L367.81,161.74 L367,165 L366.26,168.16 L365.56,171.27 L364.93,174.28 L364.35,177.12 L363.83,179.73 L363.39,182.04 L363.01,183.98 L362.7,185.5 L430.61,185.5 L430.63,185.35 L430.94,183.07 L431.27,180.8 L431.64,178.52 L432.03,176.24 L432.43,173.97 L432.86,171.72 L433.3,169.48 L433.75,167.28 L434.21,165.11 L434.68,162.99 L435.15,160.92 L435.63,158.89 L436.11,156.92 L436.6,154.98 L437.1,153.08 L437.61,151.2 L438.15,149.33 L438.69,147.46 L439.26,145.59 L439.85,143.69 L440.48,141.75 L441.14,139.74 L441.85,137.7 L442.57,135.68 L443.31,133.67 L444.05,131.68 L444.8,129.7 L445.54,127.76 L446.28,125.85 L446.99,123.98 L447.69,122.13 L448.4,120.27 L449.12,118.41 L449.83,116.57 L450.54,114.75 L451.24,112.94 L451.95,111.15 L452.65,109.36 L453.34,107.59 L454.04,105.81 L454.74,104.02 L455.46,102.19 L456.18,100.35 L456.9,98.54 L457.62,96.74 L458.32,94.96 L459.02,93.2 L459.7,91.46 L460.36,89.74 L461,88.03 L461.62,86.33 L462.24,84.6 L462.85,82.87 L463.46,81.14 L464.05,79.41 L464.63,77.69 L465.2,75.96 L465.76,74.24 L466.31,72.51 L466.85,70.78 L467.09,70 Z" fill="url(#gBlue)"/><path d="M358.7,160.09 L434.61,173.95 L434.61,187.5 L358.7,187.5 Z" fill="#5fe3fb" opacity="0.45"/><path d="M393.6,70 L392.95,72.28 L392.09,75.27 L391.07,78.83 L389.93,82.81 L388.71,87.07 L387.45,91.45 L386.2,95.81 L385,100 L383.8,104.17 L382.55,108.52 L381.26,112.98 L379.96,117.5 L378.67,122.02 L377.39,126.48 L376.16,130.83 L375,135 L373.88,139.05 L372.77,143.07 L371.69,147.03 L370.64,150.91 L369.64,154.67 L368.69,158.29 L367.81,161.74 L367,165 L366.26,168.16 L365.56,171.27 L364.93,174.28 L364.35,177.12 L363.83,179.73 L363.39,182.04 L363.01,183.98 L362.7,185.5" fill="none" stroke="#2a7b98" stroke-width="10.5"/><path d="M390.6,70 L470.09,70" fill="none" stroke="#352a28" stroke-width="11"/><path d="M359.7,185.5 L433.61,185.5" fill="none" stroke="#5e2a22" stroke-width="11"/></g>
<clipPath id="Lc2"><path d="M359.6,207.3 L359.5,210.11 L359.35,213.92 L359.17,218.46 L358.98,223.46 L358.81,228.68 L358.67,233.85 L358.59,238.71 L358.6,243 L358.68,246.83 L358.82,250.48 L359.01,253.98 L359.24,257.36 L359.51,260.62 L359.81,263.81 L360.14,266.92 L360.5,270 L360.87,272.93 L361.25,275.66 L361.66,278.26 L362.11,280.81 L362.6,283.38 L363.16,286.05 L363.78,288.9 L364.5,292 L365.38,295.57 L366.45,299.64 L367.63,303.98 L368.85,308.38 L370.04,312.6 L371.13,316.42 L372.04,319.63 L372.7,322 L444.61,322 L444.12,320.66 L443.42,318.67 L442.75,316.71 L442.12,314.76 L441.52,312.83 L440.94,310.92 L440.38,309.03 L439.84,307.16 L439.32,305.31 L438.8,303.48 L438.3,301.66 L437.79,299.83 L437.29,297.98 L436.79,296.12 L436.3,294.25 L435.81,292.36 L435.34,290.47 L434.88,288.57 L434.43,286.65 L434,284.73 L433.59,282.8 L433.2,280.89 L432.83,278.99 L432.47,277.1 L432.13,275.21 L431.81,273.31 L431.5,271.41 L431.21,269.51 L430.93,267.59 L430.66,265.67 L430.41,263.72 L430.17,261.74 L429.94,259.74 L429.73,257.73 L429.53,255.71 L429.35,253.7 L429.18,251.69 L429.02,249.69 L428.88,247.71 L428.74,245.75 L428.62,243.81 L428.52,241.9 L428.42,240 L428.34,238.12 L428.26,236.25 L428.21,234.39 L428.16,232.52 L428.13,230.64 L428.1,228.75 L428.1,226.85 L428.1,224.93 L428.12,222.99 L428.14,221.06 L428.18,219.11 L428.24,217.16 L428.3,215.19 L428.38,213.21 L428.47,211.21 L428.58,209.19 L428.69,207.3 Z"/></clipPath>
<g clip-path="url(#Lc2)"><path d="M359.6,207.3 L359.5,210.11 L359.35,213.92 L359.17,218.46 L358.98,223.46 L358.81,228.68 L358.67,233.85 L358.59,238.71 L358.6,243 L358.68,246.83 L358.82,250.48 L359.01,253.98 L359.24,257.36 L359.51,260.62 L359.81,263.81 L360.14,266.92 L360.5,270 L360.87,272.93 L361.25,275.66 L361.66,278.26 L362.11,280.81 L362.6,283.38 L363.16,286.05 L363.78,288.9 L364.5,292 L365.38,295.57 L366.45,299.64 L367.63,303.98 L368.85,308.38 L370.04,312.6 L371.13,316.42 L372.04,319.63 L372.7,322 L444.61,322 L444.12,320.66 L443.42,318.67 L442.75,316.71 L442.12,314.76 L441.52,312.83 L440.94,310.92 L440.38,309.03 L439.84,307.16 L439.32,305.31 L438.8,303.48 L438.3,301.66 L437.79,299.83 L437.29,297.98 L436.79,296.12 L436.3,294.25 L435.81,292.36 L435.34,290.47 L434.88,288.57 L434.43,286.65 L434,284.73 L433.59,282.8 L433.2,280.89 L432.83,278.99 L432.47,277.1 L432.13,275.21 L431.81,273.31 L431.5,271.41 L431.21,269.51 L430.93,267.59 L430.66,265.67 L430.41,263.72 L430.17,261.74 L429.94,259.74 L429.73,257.73 L429.53,255.71 L429.35,253.7 L429.18,251.69 L429.02,249.69 L428.88,247.71 L428.74,245.75 L428.62,243.81 L428.52,241.9 L428.42,240 L428.34,238.12 L428.26,236.25 L428.21,234.39 L428.16,232.52 L428.13,230.64 L428.1,228.75 L428.1,226.85 L428.1,224.93 L428.12,222.99 L428.14,221.06 L428.18,219.11 L428.24,217.16 L428.3,215.19 L428.38,213.21 L428.47,211.21 L428.58,209.19 L428.69,207.3 Z" fill="url(#gBlue)"/><path d="M368.7,296.77 L448.61,310.53 L448.61,324 L368.7,324 Z" fill="#5fe3fb" opacity="0.45"/><path d="M359.6,207.3 L359.5,210.11 L359.35,213.92 L359.17,218.46 L358.98,223.46 L358.81,228.68 L358.67,233.85 L358.59,238.71 L358.6,243 L358.68,246.83 L358.82,250.48 L359.01,253.98 L359.24,257.36 L359.51,260.62 L359.81,263.81 L360.14,266.92 L360.5,270 L360.87,272.93 L361.25,275.66 L361.66,278.26 L362.11,280.81 L362.6,283.38 L363.16,286.05 L363.78,288.9 L364.5,292 L365.38,295.57 L366.45,299.64 L367.63,303.98 L368.85,308.38 L370.04,312.6 L371.13,316.42 L372.04,319.63 L372.7,322" fill="none" stroke="#2a7b98" stroke-width="10.5"/><path d="M356.6,207.3 L431.69,207.3" fill="none" stroke="#6a2a20" stroke-width="11"/><path d="M369.7,322 L447.61,322" fill="none" stroke="#4a3434" stroke-width="11"/></g>
<clipPath id="Lc3"><path d="M379.6,344.3 L380.34,346.06 L381.35,348.42 L382.54,351.22 L383.86,354.34 L385.24,357.61 L386.6,360.91 L387.88,364.09 L389,367 L390,369.69 L390.95,372.3 L391.87,374.87 L392.74,377.42 L393.59,379.98 L394.41,382.58 L395.21,385.24 L396,388 L396.78,390.86 L397.56,393.81 L398.33,396.82 L399.06,399.88 L399.76,402.94 L400.41,406 L400.99,409.03 L401.5,412 L401.93,414.91 L402.3,417.79 L402.6,420.63 L402.86,423.47 L403.06,426.31 L403.24,429.17 L403.38,432.06 L403.5,435 L403.58,438.16 L403.6,441.59 L403.58,445.15 L403.52,448.69 L403.46,452.04 L403.39,455.06 L403.33,457.6 L403.3,459.5 L471.61,459.5 L471.63,459.12 L471.71,456.58 L471.78,454.16 L471.84,451.85 L471.9,449.64 L471.96,447.5 L472,445.41 L472.04,443.36 L472.07,441.32 L472.09,439.27 L472.1,437.18 L472.1,435.02 L472.09,432.79 L472.09,430.56 L472.07,428.34 L472.05,426.13 L472.02,423.92 L471.98,421.71 L471.92,419.5 L471.84,417.28 L471.74,415.05 L471.62,412.78 L471.48,410.41 L471.31,407.94 L471.13,405.41 L470.94,402.87 L470.72,400.33 L470.49,397.84 L470.25,395.42 L469.99,393.12 L469.73,390.98 L469.45,389.02 L469.17,387.24 L468.88,385.61 L468.58,384.11 L468.28,382.69 L467.96,381.33 L467.61,379.97 L467.24,378.58 L466.82,377.13 L466.37,375.59 L465.89,373.98 L465.39,372.36 L464.87,370.76 L464.32,369.12 L463.74,367.45 L463.13,365.76 L462.5,364.06 L461.85,362.33 L461.18,360.6 L460.49,358.86 L459.81,357.15 L459.13,355.51 L458.42,353.86 L457.68,352.18 L456.91,350.46 L456.11,348.7 L455.28,346.91 L454.45,345.09 L454.09,344.3 Z"/></clipPath>
<g clip-path="url(#Lc3)"><path d="M379.6,344.3 L380.34,346.06 L381.35,348.42 L382.54,351.22 L383.86,354.34 L385.24,357.61 L386.6,360.91 L387.88,364.09 L389,367 L390,369.69 L390.95,372.3 L391.87,374.87 L392.74,377.42 L393.59,379.98 L394.41,382.58 L395.21,385.24 L396,388 L396.78,390.86 L397.56,393.81 L398.33,396.82 L399.06,399.88 L399.76,402.94 L400.41,406 L400.99,409.03 L401.5,412 L401.93,414.91 L402.3,417.79 L402.6,420.63 L402.86,423.47 L403.06,426.31 L403.24,429.17 L403.38,432.06 L403.5,435 L403.58,438.16 L403.6,441.59 L403.58,445.15 L403.52,448.69 L403.46,452.04 L403.39,455.06 L403.33,457.6 L403.3,459.5 L471.61,459.5 L471.63,459.12 L471.71,456.58 L471.78,454.16 L471.84,451.85 L471.9,449.64 L471.96,447.5 L472,445.41 L472.04,443.36 L472.07,441.32 L472.09,439.27 L472.1,437.18 L472.1,435.02 L472.09,432.79 L472.09,430.56 L472.07,428.34 L472.05,426.13 L472.02,423.92 L471.98,421.71 L471.92,419.5 L471.84,417.28 L471.74,415.05 L471.62,412.78 L471.48,410.41 L471.31,407.94 L471.13,405.41 L470.94,402.87 L470.72,400.33 L470.49,397.84 L470.25,395.42 L469.99,393.12 L469.73,390.98 L469.45,389.02 L469.17,387.24 L468.88,385.61 L468.58,384.11 L468.28,382.69 L467.96,381.33 L467.61,379.97 L467.24,378.58 L466.82,377.13 L466.37,375.59 L465.89,373.98 L465.39,372.36 L464.87,370.76 L464.32,369.12 L463.74,367.45 L463.13,365.76 L462.5,364.06 L461.85,362.33 L461.18,360.6 L460.49,358.86 L459.81,357.15 L459.13,355.51 L458.42,353.86 L457.68,352.18 L456.91,350.46 L456.11,348.7 L455.28,346.91 L454.45,345.09 L454.09,344.3 Z" fill="url(#gBlue)"/><path d="M399.3,434.16 L475.61,447.98 L475.61,461.5 L399.3,461.5 Z" fill="#5fe3fb" opacity="0.45"/><path d="M379.6,344.3 L380.34,346.06 L381.35,348.42 L382.54,351.22 L383.86,354.34 L385.24,357.61 L386.6,360.91 L387.88,364.09 L389,367 L390,369.69 L390.95,372.3 L391.87,374.87 L392.74,377.42 L393.59,379.98 L394.41,382.58 L395.21,385.24 L396,388 L396.78,390.86 L397.56,393.81 L398.33,396.82 L399.06,399.88 L399.76,402.94 L400.41,406 L400.99,409.03 L401.5,412 L401.93,414.91 L402.3,417.79 L402.6,420.63 L402.86,423.47 L403.06,426.31 L403.24,429.17 L403.38,432.06 L403.5,435 L403.58,438.16 L403.6,441.59 L403.58,445.15 L403.52,448.69 L403.46,452.04 L403.39,455.06 L403.33,457.6 L403.3,459.5" fill="none" stroke="#2a7b98" stroke-width="10.5"/><path d="M376.6,344.3 L457.09,344.3" fill="none" stroke="#38505c" stroke-width="11"/><path d="M400.3,459.5 L474.61,459.5" fill="none" stroke="#4e3a38" stroke-width="11"/></g>
<clipPath id="Lc4"><path d="M401.8,481.8 L401.62,485.13 L401.39,489.54 L401.11,494.8 L400.81,500.65 L400.48,506.84 L400.14,513.13 L399.81,519.27 L399.5,525 L399.18,530.76 L398.83,536.97 L398.47,543.38 L398.11,549.7 L397.76,555.69 L397.45,561.07 L397.19,565.6 L397,569 L465.32,569 L465.47,566.66 L465.63,564.12 L465.79,561.61 L465.96,559.13 L466.12,556.66 L466.29,554.2 L466.46,551.74 L466.64,549.27 L466.81,546.78 L466.98,544.26 L467.16,541.7 L467.33,539.09 L467.51,536.41 L467.69,533.67 L467.87,530.89 L468.06,528.07 L468.24,525.24 L468.42,522.39 L468.61,519.55 L468.78,516.73 L468.96,513.93 L469.12,511.18 L469.29,508.45 L469.45,505.74 L469.61,503.06 L469.76,500.39 L469.92,497.73 L470.06,495.07 L470.21,492.41 L470.35,489.74 L470.48,487.06 L470.62,484.35 L470.73,481.8 Z"/></clipPath>
<g clip-path="url(#Lc4)"><path d="M401.8,481.8 L401.62,485.13 L401.39,489.54 L401.11,494.8 L400.81,500.65 L400.48,506.84 L400.14,513.13 L399.81,519.27 L399.5,525 L399.18,530.76 L398.83,536.97 L398.47,543.38 L398.11,549.7 L397.76,555.69 L397.45,561.07 L397.19,565.6 L397,569 L465.32,569 L465.47,566.66 L465.63,564.12 L465.79,561.61 L465.96,559.13 L466.12,556.66 L466.29,554.2 L466.46,551.74 L466.64,549.27 L466.81,546.78 L466.98,544.26 L467.16,541.7 L467.33,539.09 L467.51,536.41 L467.69,533.67 L467.87,530.89 L468.06,528.07 L468.24,525.24 L468.42,522.39 L468.61,519.55 L468.78,516.73 L468.96,513.93 L469.12,511.18 L469.29,508.45 L469.45,505.74 L469.61,503.06 L469.76,500.39 L469.92,497.73 L470.06,495.07 L470.21,492.41 L470.35,489.74 L470.48,487.06 L470.62,484.35 L470.73,481.8 Z" fill="url(#gBlue)"/><path d="M393,549.82 L469.32,560.28 L469.32,571 L393,571 Z" fill="#5fe3fb" opacity="0.45"/><path d="M401.8,481.8 L401.62,485.13 L401.39,489.54 L401.11,494.8 L400.81,500.65 L400.48,506.84 L400.14,513.13 L399.81,519.27 L399.5,525 L399.18,530.76 L398.83,536.97 L398.47,543.38 L398.11,549.7 L397.76,555.69 L397.45,561.07 L397.19,565.6 L397,569" fill="none" stroke="#2a7b98" stroke-width="10.5"/><path d="M398.8,481.8 L473.73,481.8" fill="none" stroke="#355a68" stroke-width="11"/><path d="M394,569 L468.32,569" fill="none" stroke="#453838" stroke-width="11"/></g>
<path d="M466.51,-6 L483,-5.94 L483,-5.57 L483.01,-5.14 L483.02,-4.68 L483.02,-4.19 L483.03,-3.66 L483.04,-3.08 L483.04,-2.45 L483.03,-1.78 L483.02,-1.04 L483,-0.22 L482.98,0.71 L482.96,1.69 L482.94,2.7 L482.91,3.74 L482.88,4.83 L482.84,5.98 L482.79,7.19 L482.72,8.47 L482.63,9.84 L482.53,11.32 L482.4,12.96 L482.26,14.72 L482.1,16.58 L481.94,18.51 L481.76,20.5 L481.56,22.54 L481.35,24.59 L481.11,26.66 L480.86,28.71 L480.59,30.75 L480.28,32.84 L479.95,35.01 L479.6,37.24 L479.22,39.5 L478.83,41.78 L478.42,44.04 L478,46.27 L477.57,48.45 L477.14,50.56 L476.71,52.57 L476.28,54.48 L475.84,56.33 L475.39,58.13 L474.92,59.89 L474.45,61.63 L473.96,63.36 L473.46,65.09 L472.95,66.84 L472.42,68.6 L471.89,70.39 L471.34,72.17 L470.8,73.93 L470.24,75.68 L469.67,77.43 L469.09,79.18 L468.5,80.92 L467.9,82.67 L467.29,84.42 L466.67,86.18 L466.04,87.93 L465.4,89.67 L464.75,91.41 L464.08,93.15 L463.39,94.92 L462.69,96.69 L461.98,98.48 L461.27,100.27 L460.55,102.08 L459.83,103.91 L459.12,105.73 L458.42,107.52 L457.72,109.3 L457.02,111.08 L456.32,112.87 L455.62,114.66 L454.92,116.46 L454.21,118.27 L453.5,120.1 L452.79,121.95 L452.09,123.8 L451.38,125.65 L450.66,127.53 L449.93,129.44 L449.19,131.38 L448.45,133.33 L447.72,135.3 L446.99,137.28 L446.28,139.26 L445.6,141.25 L444.94,143.21 L444.33,145.11 L443.75,146.97 L443.2,148.81 L442.66,150.63 L442.14,152.46 L441.64,154.3 L441.15,156.16 L440.67,158.05 L440.2,159.99 L439.73,161.97 L439.27,164.01 L438.81,166.11 L438.35,168.24 L437.91,170.41 L437.48,172.61 L437.06,174.83 L436.66,177.05 L436.28,179.29 L435.92,181.51 L435.59,183.73 L435.29,185.95 L435.01,188.18 L434.76,190.4 L434.54,192.62 L434.33,194.82 L434.14,197 L433.97,199.15 L433.81,201.27 L433.66,203.35 L433.52,205.4 L433.39,207.43 L433.27,209.45 L433.17,211.44 L433.08,213.41 L433,215.36 L432.94,217.3 L432.88,219.22 L432.84,221.14 L432.82,223.05 L432.8,224.95 L432.8,226.85 L432.8,228.72 L432.82,230.57 L432.86,232.42 L432.9,234.25 L432.96,236.09 L433.03,237.93 L433.11,239.78 L433.21,241.65 L433.32,243.53 L433.43,245.44 L433.56,247.38 L433.71,249.34 L433.86,251.31 L434.03,253.29 L434.21,255.27 L434.4,257.25 L434.61,259.23 L434.83,261.19 L435.07,263.13 L435.32,265.04 L435.58,266.93 L435.86,268.81 L436.14,270.68 L436.45,272.54 L436.76,274.4 L437.1,276.25 L437.44,278.11 L437.81,279.97 L438.19,281.84 L438.59,283.72 L439.01,285.61 L439.45,287.48 L439.9,289.35 L440.37,291.21 L440.85,293.06 L441.33,294.91 L441.82,296.75 L442.32,298.58 L442.83,300.4 L443.33,302.22 L443.84,304.04 L444.36,305.87 L444.89,307.72 L445.44,309.58 L446.01,311.45 L446.6,313.33 L447.21,315.23 L447.86,317.14 L448.54,319.06 L449.25,320.99 L449.99,322.9 L450.75,324.8 L451.53,326.67 L452.32,328.53 L453.11,330.37 L453.9,332.19 L454.69,334 L455.47,335.79 L456.25,337.59 L457.06,339.44 L457.89,341.3 L458.72,343.14 L459.56,344.95 L460.38,346.75 L461.19,348.52 L461.97,350.26 L462.73,351.99 L463.46,353.69 L464.16,355.39 L464.86,357.13 L465.55,358.89 L466.24,360.65 L466.9,362.41 L467.55,364.15 L468.17,365.88 L468.77,367.59 L469.34,369.28 L469.88,370.95 L470.39,372.61 L470.88,374.26 L471.34,375.83 L471.76,377.33 L472.16,378.77 L472.52,380.21 L472.86,381.66 L473.19,383.16 L473.5,384.75 L473.8,386.46 L474.1,388.33 L474.38,390.36 L474.66,392.57 L474.92,394.93 L475.17,397.38 L475.4,399.92 L475.62,402.49 L475.82,405.07 L476,407.62 L476.17,410.12 L476.31,412.51 L476.44,414.82 L476.54,417.1 L476.61,419.36 L476.68,421.6 L476.72,423.84 L476.75,426.08 L476.77,428.31 L476.79,430.54 L476.79,432.78 L476.8,435.01 L476.8,437.19 L476.79,439.3 L476.77,441.38 L476.74,443.44 L476.7,445.51 L476.66,447.61 L476.6,449.76 L476.54,451.98 L476.48,454.3 L476.4,456.73 L476.32,459.27 L476.24,461.92 L476.14,464.67 L476.04,467.48 L475.93,470.33 L475.81,473.22 L475.69,476.1 L475.57,478.97 L475.44,481.8 L475.31,484.57 L475.18,487.29 L475.04,489.98 L474.9,492.66 L474.76,495.33 L474.61,497.99 L474.46,500.66 L474.3,503.33 L474.14,506.02 L473.98,508.73 L473.82,511.46 L473.65,514.22 L473.48,517.02 L473.3,519.85 L473.12,522.7 L472.93,525.54 L472.75,528.38 L472.56,531.2 L472.38,533.98 L472.2,536.72 L472.02,539.4 L471.85,542.02 L471.67,544.58 L471.5,547.1 L471.32,549.59 L471.15,552.06 L470.98,554.52 L470.81,556.98 L470.65,559.44 L470.48,561.92 L470.32,564.42 L470.16,566.95 L470,569.5 L469.85,572.05 L469.69,574.61 L469.54,577.16 L469.39,579.69 L469.24,582.19 L469.1,584.66 L468.96,587.09 L468.82,589.46 L468.78,590 L464.08,590 L464.12,589.18 L464.26,586.81 L464.41,584.39 L464.55,581.92 L464.7,579.41 L464.85,576.88 L465,574.33 L465.15,571.77 L465.31,569.21 L465.47,566.66 L465.63,564.12 L465.79,561.61 L465.96,559.13 L466.12,556.66 L466.29,554.2 L466.46,551.74 L466.64,549.27 L466.81,546.78 L466.98,544.26 L467.16,541.7 L467.33,539.09 L467.51,536.41 L467.69,533.67 L467.87,530.89 L468.06,528.07 L468.24,525.24 L468.42,522.39 L468.61,519.55 L468.78,516.73 L468.96,513.93 L469.12,511.18 L469.29,508.45 L469.45,505.74 L469.61,503.06 L469.76,500.39 L469.92,497.73 L470.06,495.07 L470.21,492.41 L470.35,489.74 L470.48,487.06 L470.62,484.35 L470.74,481.59 L470.87,478.77 L470.99,475.9 L471.11,473.02 L471.23,470.15 L471.34,467.3 L471.44,464.5 L471.54,461.76 L471.63,459.12 L471.71,456.58 L471.78,454.16 L471.84,451.85 L471.9,449.64 L471.96,447.5 L472,445.41 L472.04,443.36 L472.07,441.32 L472.09,439.27 L472.1,437.18 L472.1,435.02 L472.09,432.79 L472.09,430.56 L472.07,428.34 L472.05,426.13 L472.02,423.92 L471.98,421.71 L471.92,419.5 L471.84,417.28 L471.74,415.05 L471.62,412.78 L471.48,410.41 L471.31,407.94 L471.13,405.41 L470.94,402.87 L470.72,400.33 L470.49,397.84 L470.25,395.42 L469.99,393.12 L469.73,390.98 L469.45,389.02 L469.17,387.24 L468.88,385.61 L468.58,384.11 L468.28,382.69 L467.96,381.33 L467.61,379.97 L467.24,378.58 L466.82,377.13 L466.37,375.59 L465.89,373.98 L465.39,372.36 L464.87,370.76 L464.32,369.12 L463.74,367.45 L463.13,365.76 L462.5,364.06 L461.85,362.33 L461.18,360.6 L460.49,358.86 L459.81,357.15 L459.13,355.51 L458.42,353.86 L457.68,352.18 L456.91,350.46 L456.11,348.7 L455.28,346.91 L454.45,345.09 L453.6,343.23 L452.76,341.34 L451.94,339.46 L451.16,337.66 L450.38,335.88 L449.59,334.07 L448.79,332.24 L447.99,330.38 L447.19,328.49 L446.4,326.57 L445.62,324.63 L444.86,322.65 L444.12,320.66 L443.42,318.67 L442.75,316.71 L442.12,314.76 L441.52,312.83 L440.94,310.92 L440.38,309.03 L439.84,307.16 L439.32,305.31 L438.8,303.48 L438.3,301.66 L437.79,299.83 L437.29,297.98 L436.79,296.12 L436.3,294.25 L435.81,292.36 L435.34,290.47 L434.88,288.57 L434.43,286.65 L434,284.73 L433.59,282.8 L433.2,280.89 L432.83,278.99 L432.47,277.1 L432.13,275.21 L431.81,273.31 L431.5,271.41 L431.21,269.51 L430.93,267.59 L430.66,265.67 L430.41,263.72 L430.17,261.74 L429.94,259.74 L429.73,257.73 L429.53,255.71 L429.35,253.7 L429.18,251.69 L429.02,249.69 L428.88,247.71 L428.74,245.75 L428.62,243.81 L428.52,241.9 L428.42,240 L428.34,238.12 L428.26,236.25 L428.21,234.39 L428.16,232.52 L428.13,230.64 L428.1,228.75 L428.1,226.85 L428.1,224.93 L428.12,222.99 L428.14,221.06 L428.18,219.11 L428.24,217.16 L428.3,215.19 L428.38,213.21 L428.47,211.21 L428.58,209.19 L428.7,207.15 L428.83,205.09 L428.97,203.03 L429.12,200.93 L429.28,198.78 L429.46,196.6 L429.65,194.39 L429.86,192.16 L430.09,189.9 L430.35,187.63 L430.63,185.35 L430.94,183.07 L431.27,180.8 L431.64,178.52 L432.03,176.24 L432.43,173.97 L432.86,171.72 L433.3,169.48 L433.75,167.28 L434.21,165.11 L434.68,162.99 L435.15,160.92 L435.63,158.89 L436.11,156.92 L436.6,154.98 L437.1,153.08 L437.61,151.2 L438.15,149.33 L438.69,147.46 L439.26,145.59 L439.85,143.69 L440.48,141.75 L441.14,139.74 L441.85,137.7 L442.57,135.68 L443.31,133.67 L444.05,131.68 L444.8,129.7 L445.54,127.76 L446.28,125.85 L446.99,123.98 L447.69,122.13 L448.4,120.27 L449.12,118.41 L449.83,116.57 L450.54,114.75 L451.24,112.94 L451.95,111.15 L452.65,109.36 L453.34,107.59 L454.04,105.81 L454.74,104.02 L455.46,102.19 L456.18,100.35 L456.9,98.54 L457.62,96.74 L458.32,94.96 L459.02,93.2 L459.7,91.46 L460.36,89.74 L461,88.03 L461.62,86.33 L462.24,84.6 L462.85,82.87 L463.46,81.14 L464.05,79.41 L464.63,77.69 L465.2,75.96 L465.76,74.24 L466.31,72.51 L466.85,70.78 L467.39,69.03 L467.92,67.26 L468.45,65.5 L468.95,63.78 L469.44,62.08 L469.92,60.38 L470.38,58.68 L470.83,56.96 L471.27,55.21 L471.7,53.42 L472.12,51.56 L472.54,49.6 L472.96,47.53 L473.38,45.39 L473.79,43.19 L474.2,40.96 L474.59,38.72 L474.96,36.49 L475.31,34.29 L475.64,32.15 L475.93,30.1 L476.2,28.11 L476.45,26.11 L476.67,24.09 L476.88,22.06 L477.08,20.06 L477.26,18.1 L477.42,16.19 L477.57,14.34 L477.71,12.59 L477.84,10.97 L477.94,9.52 L478.03,8.2 L478.09,6.96 L478.14,5.79 L478.18,4.68 L478.21,3.62 L478.24,2.59 L478.26,1.59 L478.28,0.6 L478.3,-0.33 L478.32,-1.13 L478.33,-1.82 L478.34,-2.47 L478.34,-3.06 L478.33,-3.61 L478.33,-4.12 L478.32,-4.6 L478.31,-5.06 L478.3,-5.52 L478.3,-5.91 L461.81,-6 Z" fill="#5e261c"/><path d="M492,-6 L492,-5.67 L492.01,-5.28 L492.02,-4.83 L492.02,-4.32 L492.03,-3.75 L492.04,-3.12 L492.04,-2.43 L492.03,-1.68 L492.02,-0.87 L492,0 L491.98,0.92 L491.96,1.89 L491.93,2.91 L491.91,3.98 L491.88,5.12 L491.83,6.34 L491.78,7.62 L491.7,8.99 L491.61,10.45 L491.5,12 L491.37,13.66 L491.23,15.45 L491.07,17.33 L490.9,19.3 L490.72,21.34 L490.52,23.44 L490.29,25.56 L490.05,27.71 L489.79,29.86 L489.5,32 L489.19,34.17 L488.84,36.4 L488.48,38.69 L488.09,41.01 L487.69,43.34 L487.27,45.67 L486.84,47.97 L486.4,50.22 L485.95,52.4 L485.5,54.5 L485.05,56.51 L484.58,58.46 L484.1,60.36 L483.62,62.21 L483.12,64.03 L482.62,65.83 L482.11,67.61 L481.58,69.4 L481.05,71.19 L480.5,73 L479.94,74.82 L479.38,76.63 L478.81,78.44 L478.22,80.24 L477.62,82.03 L477.02,83.82 L476.4,85.62 L475.78,87.41 L475.15,89.2 L474.5,91 L473.84,92.8 L473.16,94.6 L472.47,96.4 L471.77,98.2 L471.06,100 L470.35,101.8 L469.63,103.6 L468.92,105.4 L468.2,107.2 L467.5,109 L466.8,110.8 L466.1,112.58 L465.4,114.37 L464.7,116.15 L464,117.94 L463.3,119.73 L462.6,121.53 L461.9,123.34 L461.2,125.16 L460.5,127 L459.79,128.86 L459.07,130.75 L458.34,132.66 L457.6,134.58 L456.88,136.5 L456.16,138.42 L455.45,140.34 L454.77,142.25 L454.12,144.14 L453.5,146 L452.91,147.83 L452.36,149.62 L451.82,151.38 L451.31,153.13 L450.81,154.88 L450.33,156.63 L449.86,158.41 L449.4,160.22 L448.95,162.08 L448.5,164 L448.05,165.98 L447.6,168.01 L447.16,170.08 L446.73,172.18 L446.31,174.31 L445.91,176.46 L445.52,178.61 L445.16,180.75 L444.81,182.89 L444.5,185 L444.21,187.11 L443.95,189.23 L443.71,191.36 L443.49,193.5 L443.29,195.62 L443.11,197.74 L442.94,199.85 L442.78,201.93 L442.64,203.98 L442.5,206 L442.37,207.99 L442.26,209.94 L442.16,211.88 L442.07,213.79 L441.99,215.69 L441.93,217.57 L441.88,219.44 L441.84,221.3 L441.82,223.15 L441.8,225 L441.8,226.84 L441.8,228.65 L441.82,230.44 L441.86,232.22 L441.9,234 L441.96,235.78 L442.02,237.56 L442.1,239.35 L442.2,241.16 L442.3,243 L442.42,244.86 L442.54,246.75 L442.68,248.66 L442.83,250.58 L442.99,252.5 L443.17,254.42 L443.36,256.34 L443.56,258.25 L443.77,260.14 L444,262 L444.24,263.84 L444.49,265.66 L444.76,267.47 L445.03,269.27 L445.32,271.06 L445.63,272.85 L445.95,274.63 L446.28,276.42 L446.63,278.2 L447,280 L447.38,281.8 L447.79,283.6 L448.21,285.4 L448.64,287.2 L449.09,289 L449.56,290.8 L450.03,292.6 L450.51,294.4 L451,296.2 L451.5,298 L452,299.8 L452.5,301.6 L453.01,303.4 L453.53,305.2 L454.06,307 L454.61,308.8 L455.17,310.6 L455.76,312.4 L456.36,314.2 L457,316 L457.67,317.8 L458.36,319.6 L459.09,321.4 L459.83,323.2 L460.59,325 L461.37,326.8 L462.15,328.6 L462.94,330.4 L463.72,332.2 L464.5,334 L465.29,335.8 L466.09,337.6 L466.91,339.4 L467.74,341.2 L468.56,343 L469.38,344.8 L470.19,346.6 L470.99,348.4 L471.76,350.2 L472.5,352 L473.22,353.8 L473.94,355.62 L474.64,357.43 L475.33,359.25 L476,361.06 L476.65,362.87 L477.28,364.67 L477.88,366.46 L478.46,368.24 L479,370 L479.51,371.7 L479.99,373.34 L480.44,374.92 L480.86,376.49 L481.26,378.06 L481.64,379.67 L482,381.34 L482.35,383.1 L482.68,384.98 L483,387 L483.31,389.19 L483.6,391.52 L483.87,393.98 L484.13,396.52 L484.37,399.12 L484.59,401.76 L484.8,404.4 L484.98,407 L485.15,409.55 L485.3,412 L485.43,414.39 L485.53,416.74 L485.61,419.08 L485.67,421.39 L485.72,423.69 L485.75,425.97 L485.77,428.24 L485.79,430.5 L485.79,432.75 L485.8,435 L485.8,437.21 L485.79,439.37 L485.77,441.48 L485.74,443.58 L485.7,445.69 L485.65,447.82 L485.6,449.99 L485.54,452.23 L485.47,454.56 L485.4,457 L485.32,459.56 L485.23,462.23 L485.13,464.99 L485.03,467.82 L484.92,470.69 L484.8,473.58 L484.68,476.48 L484.56,479.37 L484.43,482.21 L484.3,485 L484.17,487.74 L484.03,490.45 L483.89,493.14 L483.74,495.82 L483.59,498.5 L483.44,501.18 L483.28,503.86 L483.13,506.55 L482.96,509.26 L482.8,512 L482.63,514.77 L482.46,517.58 L482.28,520.42 L482.1,523.27 L481.91,526.12 L481.73,528.97 L481.54,531.79 L481.36,534.58 L481.18,537.32 L481,540 L480.83,542.62 L480.65,545.19 L480.48,547.72 L480.3,550.22 L480.13,552.69 L479.96,555.14 L479.79,557.59 L479.63,560.05 L479.46,562.51 L479.3,565 L479.14,567.51 L478.98,570.05 L478.83,572.59 L478.68,575.14 L478.52,577.69 L478.38,580.22 L478.23,582.72 L478.08,585.19 L477.94,587.62 L477.8,590 L477.66,592.31 L477.52,594.56 L477.39,596.76 L477.25,598.92 L477.12,601.06 L476.99,603.2 L476.86,605.35 L476.74,607.52 L476.62,609.73 L476.5,612 L476.38,614.43 L476.26,617.06 L476.15,619.81 L476.03,622.61 L475.92,625.38 L475.81,628.03 L475.72,630.5 L475.63,632.7 L475.56,634.56 L475.5,636 L466.51,636 L466.51,635.64 L466.57,634.21 L466.64,632.35 L466.72,630.15 L466.82,627.68 L466.93,625.02 L467.04,622.24 L467.15,619.43 L467.27,616.66 L467.39,614.01 L467.51,611.55 L467.63,609.26 L467.75,607.02 L467.88,604.83 L468,602.66 L468.14,600.51 L468.27,598.36 L468.4,596.2 L468.54,594 L468.68,591.77 L468.82,589.46 L468.96,587.09 L469.1,584.66 L469.24,582.19 L469.39,579.69 L469.54,577.16 L469.69,574.61 L469.85,572.05 L470,569.5 L470.16,566.95 L470.32,564.42 L470.48,561.92 L470.65,559.44 L470.81,556.98 L470.98,554.52 L471.15,552.06 L471.32,549.59 L471.5,547.1 L471.67,544.58 L471.85,542.02 L472.02,539.4 L472.2,536.72 L472.38,533.98 L472.56,531.2 L472.75,528.38 L472.93,525.54 L473.12,522.7 L473.3,519.85 L473.48,517.02 L473.65,514.22 L473.82,511.46 L473.98,508.73 L474.14,506.02 L474.3,503.33 L474.46,500.66 L474.61,497.99 L474.76,495.33 L474.9,492.66 L475.04,489.98 L475.18,487.29 L475.31,484.57 L475.44,481.8 L475.57,478.97 L475.69,476.1 L475.81,473.22 L475.93,470.33 L476.04,467.48 L476.14,464.67 L476.24,461.92 L476.32,459.27 L476.4,456.73 L476.48,454.3 L476.54,451.98 L476.6,449.76 L476.66,447.61 L476.7,445.51 L476.74,443.44 L476.77,441.38 L476.79,439.3 L476.8,437.19 L476.8,435.01 L476.79,432.78 L476.79,430.54 L476.77,428.31 L476.75,426.08 L476.72,423.84 L476.68,421.6 L476.61,419.36 L476.54,417.1 L476.44,414.82 L476.31,412.51 L476.17,410.12 L476,407.62 L475.82,405.07 L475.62,402.49 L475.4,399.92 L475.17,397.38 L474.92,394.93 L474.66,392.57 L474.38,390.36 L474.1,388.33 L473.8,386.46 L473.5,384.75 L473.19,383.16 L472.86,381.66 L472.52,380.21 L472.16,378.77 L471.76,377.33 L471.34,375.83 L470.88,374.26 L470.39,372.61 L469.88,370.95 L469.34,369.28 L468.77,367.59 L468.17,365.88 L467.55,364.15 L466.9,362.41 L466.24,360.65 L465.55,358.89 L464.86,357.13 L464.16,355.39 L463.46,353.69 L462.73,351.99 L461.97,350.26 L461.19,348.52 L460.38,346.75 L459.56,344.95 L458.72,343.14 L457.89,341.3 L457.06,339.44 L456.25,337.59 L455.47,335.79 L454.69,334 L453.9,332.19 L453.11,330.37 L452.32,328.53 L451.53,326.67 L450.75,324.8 L449.99,322.9 L449.25,320.99 L448.54,319.06 L447.86,317.14 L447.21,315.23 L446.6,313.33 L446.01,311.45 L445.44,309.58 L444.89,307.72 L444.36,305.87 L443.84,304.04 L443.33,302.22 L442.83,300.4 L442.32,298.58 L441.82,296.75 L441.33,294.91 L440.85,293.06 L440.37,291.21 L439.9,289.35 L439.45,287.48 L439.01,285.61 L438.59,283.72 L438.19,281.84 L437.81,279.97 L437.44,278.11 L437.1,276.25 L436.76,274.4 L436.45,272.54 L436.14,270.68 L435.86,268.81 L435.58,266.93 L435.32,265.04 L435.07,263.13 L434.83,261.19 L434.61,259.23 L434.4,257.25 L434.21,255.27 L434.03,253.29 L433.86,251.31 L433.71,249.34 L433.56,247.38 L433.43,245.44 L433.32,243.53 L433.21,241.65 L433.11,239.78 L433.03,237.93 L432.96,236.09 L432.9,234.25 L432.86,232.42 L432.82,230.57 L432.8,228.72 L432.8,226.85 L432.8,224.95 L432.82,223.05 L432.84,221.14 L432.88,219.22 L432.94,217.3 L433,215.36 L433.08,213.41 L433.17,211.44 L433.27,209.45 L433.39,207.43 L433.52,205.4 L433.66,203.35 L433.81,201.27 L433.97,199.15 L434.14,197 L434.33,194.82 L434.54,192.62 L434.76,190.4 L435.01,188.18 L435.29,185.95 L435.59,183.73 L435.92,181.51 L436.28,179.29 L436.66,177.05 L437.06,174.83 L437.48,172.61 L437.91,170.41 L438.35,168.24 L438.81,166.11 L439.27,164.01 L439.73,161.97 L440.2,159.99 L440.67,158.05 L441.15,156.16 L441.64,154.3 L442.14,152.46 L442.66,150.63 L443.2,148.81 L443.75,146.97 L444.33,145.11 L444.94,143.21 L445.6,141.25 L446.28,139.26 L446.99,137.28 L447.72,135.3 L448.45,133.33 L449.19,131.38 L449.93,129.44 L450.66,127.53 L451.38,125.65 L452.09,123.8 L452.79,121.95 L453.5,120.1 L454.21,118.27 L454.92,116.46 L455.62,114.66 L456.32,112.87 L457.02,111.08 L457.72,109.3 L458.42,107.52 L459.12,105.73 L459.83,103.91 L460.55,102.08 L461.27,100.27 L461.98,98.48 L462.69,96.69 L463.39,94.92 L464.08,93.15 L464.75,91.41 L465.4,89.67 L466.04,87.93 L466.67,86.18 L467.29,84.42 L467.9,82.67 L468.5,80.92 L469.09,79.18 L469.67,77.43 L470.24,75.68 L470.8,73.93 L471.34,72.17 L471.89,70.39 L472.42,68.6 L472.95,66.84 L473.46,65.09 L473.96,63.36 L474.45,61.63 L474.92,59.89 L475.39,58.13 L475.84,56.33 L476.28,54.48 L476.71,52.57 L477.14,50.56 L477.57,48.45 L478,46.27 L478.42,44.04 L478.83,41.78 L479.22,39.5 L479.6,37.24 L479.95,35.01 L480.28,32.84 L480.59,30.75 L480.86,28.71 L481.11,26.66 L481.35,24.59 L481.56,22.54 L481.76,20.5 L481.94,18.51 L482.1,16.58 L482.26,14.72 L482.4,12.96 L482.53,11.32 L482.63,9.84 L482.72,8.47 L482.79,7.19 L482.84,5.98 L482.88,4.83 L482.91,3.74 L482.94,2.7 L482.96,1.69 L482.98,0.71 L483,-0.22 L483.02,-1.04 L483.03,-1.78 L483.04,-2.45 L483.04,-3.08 L483.03,-3.66 L483.02,-4.19 L483.02,-4.68 L483.01,-5.14 L483,-5.57 L483,-5.94 L466.51,-6 Z" fill="#dd3a18"/><path d="M420.8,585.5 L478.6,585.5 L478.6,636.7 L470,636.7 L470,680 L468.5,681.7 L439.3,681.7 L439.3,638.3 L420.8,638.3 Z" fill="#dd3a18"/><path d="M446.9,585.5 L454.2,585.5 L454.2,604.5 L449.3,609 L449.3,672 L446.9,672 Z" fill="#66291c"/><path d="M446.9,669.7 L461.5,669.7 L461.5,672.2 L446.9,672.2 Z" fill="#66291c"/><path d="M457.4,617 L461.5,615 L461.5,672 L457.4,672 Z" fill="#66291c"/><path d="M459,616.5 L469.6,609.6 L469.6,630.4 L459,630.4 Z" fill="#66291c"/><path d="M458.3,619 C458.3,611.5 462,607.5 469.2,604.8" fill="none" stroke="#66291c" stroke-width="1.9"/><path d="M463.6,593.3 L469.4,593.3 L469.4,603.4 L463.6,603.4 Z" fill="#66291c"/><path d="M478.1,604 L478.1,636.7 L470.3,636.7 L470.3,650" fill="none" stroke="#66291c" stroke-width="1.1" stroke-opacity="0.8"/><path d="M467,681.8 L467,695.5 C467,701 466,704 465,706 C462,714 454,723 444.5,729.5 C437,733.5 427,736.5 417.3,739 C414,741 413,746 409,748.3 C406,750 400,750 397,748 C393.5,745.5 393,741 390,738.4 L368.2,738.4 C365.5,741 365,745.5 361.5,748 C358,750 353,750 350,748 C346,745 344.5,741 341.2,738.2" fill="none" stroke="#b6b6b6" stroke-width="1.15"/></g>
<g id="wallR"><clipPath id="Rc0"><path d="M843.2,-6 L843.17,-5.67 L843.15,-5.37 L843.12,-5.02 L843.09,-4.56 L843.03,-3.91 L842.96,-2.98 L842.85,-1.7 L842.7,0 L842.5,2.23 L842.26,4.96 L841.98,8.07 L841.68,11.44 L841.37,14.94 L841.06,18.45 L840.77,21.84 L840.5,25 L840.24,28.13 L839.98,31.43 L839.72,34.78 L839.46,38.06 L839.23,41.15 L839.01,43.91 L838.84,46.24 L838.7,48 L904.37,48 L904.46,47.53 L904.88,45.39 L905.29,43.19 L905.7,40.96 L906.09,38.72 L906.46,36.49 L906.81,34.29 L907.14,32.15 L907.43,30.1 L907.7,28.11 L907.95,26.11 L908.17,24.09 L908.38,22.06 L908.58,20.06 L908.76,18.1 L908.92,16.19 L909.07,14.34 L909.21,12.59 L909.34,10.97 L909.44,9.52 L909.53,8.2 L909.59,6.96 L909.64,5.79 L909.68,4.68 L909.71,3.62 L909.74,2.59 L909.76,1.59 L909.78,0.6 L909.8,-0.33 L909.82,-1.13 L909.83,-1.82 L909.84,-2.47 L909.84,-3.06 L909.83,-3.61 L909.83,-4.12 L909.82,-4.6 L909.81,-5.06 L909.8,-5.52 L909.8,-5.91 L893.31,-6 Z"/></clipPath>
<g clip-path="url(#Rc0)"><path d="M843.2,-6 L843.17,-5.67 L843.15,-5.37 L843.12,-5.02 L843.09,-4.56 L843.03,-3.91 L842.96,-2.98 L842.85,-1.7 L842.7,0 L842.5,2.23 L842.26,4.96 L841.98,8.07 L841.68,11.44 L841.37,14.94 L841.06,18.45 L840.77,21.84 L840.5,25 L840.24,28.13 L839.98,31.43 L839.72,34.78 L839.46,38.06 L839.23,41.15 L839.01,43.91 L838.84,46.24 L838.7,48 L904.37,48 L904.46,47.53 L904.88,45.39 L905.29,43.19 L905.7,40.96 L906.09,38.72 L906.46,36.49 L906.81,34.29 L907.14,32.15 L907.43,30.1 L907.7,28.11 L907.95,26.11 L908.17,24.09 L908.38,22.06 L908.58,20.06 L908.76,18.1 L908.92,16.19 L909.07,14.34 L909.21,12.59 L909.34,10.97 L909.44,9.52 L909.53,8.2 L909.59,6.96 L909.64,5.79 L909.68,4.68 L909.71,3.62 L909.74,2.59 L909.76,1.59 L909.78,0.6 L909.8,-0.33 L909.82,-1.13 L909.83,-1.82 L909.84,-2.47 L909.84,-3.06 L909.83,-3.61 L909.83,-4.12 L909.82,-4.6 L909.81,-5.06 L909.8,-5.52 L909.8,-5.91 L893.31,-6 Z" fill="url(#gBlue)"/><path d="M834.7,36.12 L908.37,42.6 L908.37,50 L834.7,50 Z" fill="#5fe3fb" opacity="0.45"/><path d="M843.2,-6 L843.17,-5.67 L843.15,-5.37 L843.12,-5.02 L843.09,-4.56 L843.03,-3.91 L842.96,-2.98 L842.85,-1.7 L842.7,0 L842.5,2.23 L842.26,4.96 L841.98,8.07 L841.68,11.44 L841.37,14.94 L841.06,18.45 L840.77,21.84 L840.5,25 L840.24,28.13 L839.98,31.43 L839.72,34.78 L839.46,38.06 L839.23,41.15 L839.01,43.91 L838.84,46.24 L838.7,48" fill="none" stroke="#2a7b98" stroke-width="10.5"/><path d="M840.2,-6 L896.31,-6" fill="none" stroke="#3a3433" stroke-width="11"/><path d="M835.7,48 L907.37,48" fill="none" stroke="#4a3434" stroke-width="11"/></g>
<clipPath id="Rc1"><path d="M836.4,70 L836.23,72.28 L836.03,75.27 L835.79,78.83 L835.51,82.81 L835.2,87.07 L834.84,91.45 L834.44,95.81 L834,100 L833.49,104.17 L832.91,108.52 L832.27,112.98 L831.6,117.5 L830.92,122.02 L830.24,126.48 L829.59,130.83 L829,135 L828.44,139.05 L827.89,143.07 L827.35,147.03 L826.83,150.91 L826.33,154.67 L825.86,158.29 L825.41,161.74 L825,165 L824.62,168.16 L824.25,171.27 L823.91,174.28 L823.6,177.12 L823.32,179.73 L823.07,182.04 L822.87,183.98 L822.7,185.5 L862.11,185.5 L862.13,185.35 L862.44,183.07 L862.77,180.8 L863.14,178.52 L863.53,176.24 L863.93,173.97 L864.36,171.72 L864.8,169.48 L865.25,167.28 L865.71,165.11 L866.18,162.99 L866.65,160.92 L867.13,158.89 L867.61,156.92 L868.1,154.98 L868.6,153.08 L869.11,151.2 L869.65,149.33 L870.19,147.46 L870.76,145.59 L871.35,143.69 L871.98,141.75 L872.64,139.74 L873.35,137.7 L874.07,135.68 L874.81,133.67 L875.55,131.68 L876.3,129.7 L877.04,127.76 L877.78,125.85 L878.49,123.98 L879.19,122.13 L879.9,120.27 L880.62,118.41 L881.33,116.57 L882.04,114.75 L882.74,112.94 L883.45,111.15 L884.15,109.36 L884.84,107.59 L885.54,105.81 L886.24,104.02 L886.96,102.19 L887.68,100.35 L888.4,98.54 L889.12,96.74 L889.82,94.96 L890.52,93.2 L891.2,91.46 L891.86,89.74 L892.5,88.03 L893.12,86.33 L893.74,84.6 L894.35,82.87 L894.96,81.14 L895.55,79.41 L896.13,77.69 L896.7,75.96 L897.26,74.24 L897.81,72.51 L898.35,70.78 L898.59,70 Z"/></clipPath>
<g clip-path="url(#Rc1)"><path d="M836.4,70 L836.23,72.28 L836.03,75.27 L835.79,78.83 L835.51,82.81 L835.2,87.07 L834.84,91.45 L834.44,95.81 L834,100 L833.49,104.17 L832.91,108.52 L832.27,112.98 L831.6,117.5 L830.92,122.02 L830.24,126.48 L829.59,130.83 L829,135 L828.44,139.05 L827.89,143.07 L827.35,147.03 L826.83,150.91 L826.33,154.67 L825.86,158.29 L825.41,161.74 L825,165 L824.62,168.16 L824.25,171.27 L823.91,174.28 L823.6,177.12 L823.32,179.73 L823.07,182.04 L822.87,183.98 L822.7,185.5 L862.11,185.5 L862.13,185.35 L862.44,183.07 L862.77,180.8 L863.14,178.52 L863.53,176.24 L863.93,173.97 L864.36,171.72 L864.8,169.48 L865.25,167.28 L865.71,165.11 L866.18,162.99 L866.65,160.92 L867.13,158.89 L867.61,156.92 L868.1,154.98 L868.6,153.08 L869.11,151.2 L869.65,149.33 L870.19,147.46 L870.76,145.59 L871.35,143.69 L871.98,141.75 L872.64,139.74 L873.35,137.7 L874.07,135.68 L874.81,133.67 L875.55,131.68 L876.3,129.7 L877.04,127.76 L877.78,125.85 L878.49,123.98 L879.19,122.13 L879.9,120.27 L880.62,118.41 L881.33,116.57 L882.04,114.75 L882.74,112.94 L883.45,111.15 L884.15,109.36 L884.84,107.59 L885.54,105.81 L886.24,104.02 L886.96,102.19 L887.68,100.35 L888.4,98.54 L889.12,96.74 L889.82,94.96 L890.52,93.2 L891.2,91.46 L891.86,89.74 L892.5,88.03 L893.12,86.33 L893.74,84.6 L894.35,82.87 L894.96,81.14 L895.55,79.41 L896.13,77.69 L896.7,75.96 L897.26,74.24 L897.81,72.51 L898.35,70.78 L898.59,70 Z" fill="url(#gBlue)"/><path d="M818.7,160.09 L866.11,173.95 L866.11,187.5 L818.7,187.5 Z" fill="#5fe3fb" opacity="0.45"/><path d="M836.4,70 L836.23,72.28 L836.03,75.27 L835.79,78.83 L835.51,82.81 L835.2,87.07 L834.84,91.45 L834.44,95.81 L834,100 L833.49,104.17 L832.91,108.52 L832.27,112.98 L831.6,117.5 L830.92,122.02 L830.24,126.48 L829.59,130.83 L829,135 L828.44,139.05 L827.89,143.07 L827.35,147.03 L826.83,150.91 L826.33,154.67 L825.86,158.29 L825.41,161.74 L825,165 L824.62,168.16 L824.25,171.27 L823.91,174.28 L823.6,177.12 L823.32,179.73 L823.07,182.04 L822.87,183.98 L822.7,185.5" fill="none" stroke="#2a7b98" stroke-width="10.5"/><path d="M833.4,70 L901.59,70" fill="none" stroke="#352a28" stroke-width="11"/><path d="M819.7,185.5 L865.11,185.5" fill="none" stroke="#5e2a22" stroke-width="11"/></g>
<clipPath id="Rc2"><path d="M820,207.3 L819.93,210.05 L819.82,213.71 L819.69,218.06 L819.56,222.9 L819.42,228.02 L819.29,233.22 L819.18,238.28 L819.1,243 L819.04,247.44 L818.99,251.81 L818.96,256.17 L818.93,260.54 L818.92,264.97 L818.93,269.5 L818.95,274.16 L819,279 L819.08,284.33 L819.2,290.27 L819.34,296.5 L819.49,302.75 L819.65,308.72 L819.79,314.11 L819.92,318.63 L820,322 L876.11,322 L875.62,320.66 L874.92,318.67 L874.25,316.71 L873.62,314.76 L873.02,312.83 L872.44,310.92 L871.88,309.03 L871.34,307.16 L870.82,305.31 L870.3,303.48 L869.8,301.66 L869.29,299.83 L868.79,297.98 L868.29,296.12 L867.8,294.25 L867.31,292.36 L866.84,290.47 L866.38,288.57 L865.93,286.65 L865.5,284.73 L865.09,282.8 L864.7,280.89 L864.33,278.99 L863.97,277.1 L863.63,275.21 L863.31,273.31 L863,271.41 L862.71,269.51 L862.43,267.59 L862.16,265.67 L861.91,263.72 L861.67,261.74 L861.44,259.74 L861.23,257.73 L861.03,255.71 L860.85,253.7 L860.68,251.69 L860.52,249.69 L860.38,247.71 L860.24,245.75 L860.12,243.81 L860.02,241.9 L859.92,240 L859.84,238.12 L859.76,236.25 L859.71,234.39 L859.66,232.52 L859.63,230.64 L859.6,228.75 L859.6,226.85 L859.6,224.93 L859.62,222.99 L859.64,221.06 L859.68,219.11 L859.74,217.16 L859.8,215.19 L859.88,213.21 L859.97,211.21 L860.08,209.19 L860.19,207.3 Z"/></clipPath>
<g clip-path="url(#Rc2)"><path d="M820,207.3 L819.93,210.05 L819.82,213.71 L819.69,218.06 L819.56,222.9 L819.42,228.02 L819.29,233.22 L819.18,238.28 L819.1,243 L819.04,247.44 L818.99,251.81 L818.96,256.17 L818.93,260.54 L818.92,264.97 L818.93,269.5 L818.95,274.16 L819,279 L819.08,284.33 L819.2,290.27 L819.34,296.5 L819.49,302.75 L819.65,308.72 L819.79,314.11 L819.92,318.63 L820,322 L876.11,322 L875.62,320.66 L874.92,318.67 L874.25,316.71 L873.62,314.76 L873.02,312.83 L872.44,310.92 L871.88,309.03 L871.34,307.16 L870.82,305.31 L870.3,303.48 L869.8,301.66 L869.29,299.83 L868.79,297.98 L868.29,296.12 L867.8,294.25 L867.31,292.36 L866.84,290.47 L866.38,288.57 L865.93,286.65 L865.5,284.73 L865.09,282.8 L864.7,280.89 L864.33,278.99 L863.97,277.1 L863.63,275.21 L863.31,273.31 L863,271.41 L862.71,269.51 L862.43,267.59 L862.16,265.67 L861.91,263.72 L861.67,261.74 L861.44,259.74 L861.23,257.73 L861.03,255.71 L860.85,253.7 L860.68,251.69 L860.52,249.69 L860.38,247.71 L860.24,245.75 L860.12,243.81 L860.02,241.9 L859.92,240 L859.84,238.12 L859.76,236.25 L859.71,234.39 L859.66,232.52 L859.63,230.64 L859.6,228.75 L859.6,226.85 L859.6,224.93 L859.62,222.99 L859.64,221.06 L859.68,219.11 L859.74,217.16 L859.8,215.19 L859.88,213.21 L859.97,211.21 L860.08,209.19 L860.19,207.3 Z" fill="url(#gBlue)"/><path d="M816,296.77 L880.11,310.53 L880.11,324 L816,324 Z" fill="#5fe3fb" opacity="0.45"/><path d="M820,207.3 L819.93,210.05 L819.82,213.71 L819.69,218.06 L819.56,222.9 L819.42,228.02 L819.29,233.22 L819.18,238.28 L819.1,243 L819.04,247.44 L818.99,251.81 L818.96,256.17 L818.93,260.54 L818.92,264.97 L818.93,269.5 L818.95,274.16 L819,279 L819.08,284.33 L819.2,290.27 L819.34,296.5 L819.49,302.75 L819.65,308.72 L819.79,314.11 L819.92,318.63 L820,322" fill="none" stroke="#2a7b98" stroke-width="10.5"/><path d="M817,207.3 L863.19,207.3" fill="none" stroke="#6a2a20" stroke-width="11"/><path d="M817,322 L879.11,322" fill="none" stroke="#4a3434" stroke-width="11"/></g>
<clipPath id="Rc3"><path d="M825.5,344.3 L826.02,345.51 L826.71,347.11 L827.55,349.02 L828.47,351.15 L829.42,353.4 L830.36,355.69 L831.24,357.92 L832,360 L832.66,361.99 L833.27,363.98 L833.83,365.98 L834.38,367.98 L834.9,369.99 L835.42,371.99 L835.95,374 L836.5,376 L837.08,377.99 L837.69,379.95 L838.31,381.91 L838.92,383.88 L839.52,385.85 L840.07,387.86 L840.57,389.9 L841,392 L841.36,393.94 L841.66,395.62 L841.92,397.22 L842.13,398.91 L842.31,400.85 L842.46,403.24 L842.59,406.23 L842.7,410 L842.78,415.02 L842.82,421.32 L842.82,428.43 L842.81,435.88 L842.77,443.18 L842.74,449.87 L842.71,455.47 L842.7,459.5 L903.11,459.5 L903.13,459.12 L903.21,456.58 L903.28,454.16 L903.34,451.85 L903.4,449.64 L903.46,447.5 L903.5,445.41 L903.54,443.36 L903.57,441.32 L903.59,439.27 L903.6,437.18 L903.6,435.02 L903.59,432.79 L903.59,430.56 L903.57,428.34 L903.55,426.13 L903.52,423.92 L903.48,421.71 L903.42,419.5 L903.34,417.28 L903.24,415.05 L903.12,412.78 L902.98,410.41 L902.81,407.94 L902.63,405.41 L902.44,402.87 L902.22,400.33 L901.99,397.84 L901.75,395.42 L901.49,393.12 L901.23,390.98 L900.95,389.02 L900.67,387.24 L900.38,385.61 L900.08,384.11 L899.78,382.69 L899.46,381.33 L899.11,379.97 L898.74,378.58 L898.32,377.13 L897.87,375.59 L897.39,373.98 L896.89,372.36 L896.37,370.76 L895.82,369.12 L895.24,367.45 L894.63,365.76 L894,364.06 L893.35,362.33 L892.68,360.6 L891.99,358.86 L891.31,357.15 L890.63,355.51 L889.92,353.86 L889.18,352.18 L888.41,350.46 L887.61,348.7 L886.78,346.91 L885.95,345.09 L885.59,344.3 Z"/></clipPath>
<g clip-path="url(#Rc3)"><path d="M825.5,344.3 L826.02,345.51 L826.71,347.11 L827.55,349.02 L828.47,351.15 L829.42,353.4 L830.36,355.69 L831.24,357.92 L832,360 L832.66,361.99 L833.27,363.98 L833.83,365.98 L834.38,367.98 L834.9,369.99 L835.42,371.99 L835.95,374 L836.5,376 L837.08,377.99 L837.69,379.95 L838.31,381.91 L838.92,383.88 L839.52,385.85 L840.07,387.86 L840.57,389.9 L841,392 L841.36,393.94 L841.66,395.62 L841.92,397.22 L842.13,398.91 L842.31,400.85 L842.46,403.24 L842.59,406.23 L842.7,410 L842.78,415.02 L842.82,421.32 L842.82,428.43 L842.81,435.88 L842.77,443.18 L842.74,449.87 L842.71,455.47 L842.7,459.5 L903.11,459.5 L903.13,459.12 L903.21,456.58 L903.28,454.16 L903.34,451.85 L903.4,449.64 L903.46,447.5 L903.5,445.41 L903.54,443.36 L903.57,441.32 L903.59,439.27 L903.6,437.18 L903.6,435.02 L903.59,432.79 L903.59,430.56 L903.57,428.34 L903.55,426.13 L903.52,423.92 L903.48,421.71 L903.42,419.5 L903.34,417.28 L903.24,415.05 L903.12,412.78 L902.98,410.41 L902.81,407.94 L902.63,405.41 L902.44,402.87 L902.22,400.33 L901.99,397.84 L901.75,395.42 L901.49,393.12 L901.23,390.98 L900.95,389.02 L900.67,387.24 L900.38,385.61 L900.08,384.11 L899.78,382.69 L899.46,381.33 L899.11,379.97 L898.74,378.58 L898.32,377.13 L897.87,375.59 L897.39,373.98 L896.89,372.36 L896.37,370.76 L895.82,369.12 L895.24,367.45 L894.63,365.76 L894,364.06 L893.35,362.33 L892.68,360.6 L891.99,358.86 L891.31,357.15 L890.63,355.51 L889.92,353.86 L889.18,352.18 L888.41,350.46 L887.61,348.7 L886.78,346.91 L885.95,345.09 L885.59,344.3 Z" fill="url(#gBlue)"/><path d="M838.7,434.16 L907.11,447.98 L907.11,461.5 L838.7,461.5 Z" fill="#5fe3fb" opacity="0.45"/><path d="M825.5,344.3 L826.02,345.51 L826.71,347.11 L827.55,349.02 L828.47,351.15 L829.42,353.4 L830.36,355.69 L831.24,357.92 L832,360 L832.66,361.99 L833.27,363.98 L833.83,365.98 L834.38,367.98 L834.9,369.99 L835.42,371.99 L835.95,374 L836.5,376 L837.08,377.99 L837.69,379.95 L838.31,381.91 L838.92,383.88 L839.52,385.85 L840.07,387.86 L840.57,389.9 L841,392 L841.36,393.94 L841.66,395.62 L841.92,397.22 L842.13,398.91 L842.31,400.85 L842.46,403.24 L842.59,406.23 L842.7,410 L842.78,415.02 L842.82,421.32 L842.82,428.43 L842.81,435.88 L842.77,443.18 L842.74,449.87 L842.71,455.47 L842.7,459.5" fill="none" stroke="#2a7b98" stroke-width="10.5"/><path d="M822.5,344.3 L888.59,344.3" fill="none" stroke="#38505c" stroke-width="11"/><path d="M839.7,459.5 L906.11,459.5" fill="none" stroke="#4e3a38" stroke-width="11"/></g>
<clipPath id="Rc4"><path d="M840.5,481.8 L840.16,485.13 L839.7,489.54 L839.16,494.8 L838.56,500.65 L837.92,506.84 L837.27,513.13 L836.62,519.27 L836,525 L835.36,530.76 L834.67,536.97 L833.94,543.38 L833.22,549.7 L832.53,555.69 L831.91,561.07 L831.39,565.6 L831,569 L896.82,569 L896.97,566.66 L897.13,564.12 L897.29,561.61 L897.46,559.13 L897.62,556.66 L897.79,554.2 L897.96,551.74 L898.14,549.27 L898.31,546.78 L898.48,544.26 L898.66,541.7 L898.83,539.09 L899.01,536.41 L899.19,533.67 L899.37,530.89 L899.56,528.07 L899.74,525.24 L899.92,522.39 L900.11,519.55 L900.28,516.73 L900.46,513.93 L900.62,511.18 L900.79,508.45 L900.95,505.74 L901.11,503.06 L901.26,500.39 L901.42,497.73 L901.56,495.07 L901.71,492.41 L901.85,489.74 L901.98,487.06 L902.12,484.35 L902.23,481.8 Z"/></clipPath>
<g clip-path="url(#Rc4)"><path d="M840.5,481.8 L840.16,485.13 L839.7,489.54 L839.16,494.8 L838.56,500.65 L837.92,506.84 L837.27,513.13 L836.62,519.27 L836,525 L835.36,530.76 L834.67,536.97 L833.94,543.38 L833.22,549.7 L832.53,555.69 L831.91,561.07 L831.39,565.6 L831,569 L896.82,569 L896.97,566.66 L897.13,564.12 L897.29,561.61 L897.46,559.13 L897.62,556.66 L897.79,554.2 L897.96,551.74 L898.14,549.27 L898.31,546.78 L898.48,544.26 L898.66,541.7 L898.83,539.09 L899.01,536.41 L899.19,533.67 L899.37,530.89 L899.56,528.07 L899.74,525.24 L899.92,522.39 L900.11,519.55 L900.28,516.73 L900.46,513.93 L900.62,511.18 L900.79,508.45 L900.95,505.74 L901.11,503.06 L901.26,500.39 L901.42,497.73 L901.56,495.07 L901.71,492.41 L901.85,489.74 L901.98,487.06 L902.12,484.35 L902.23,481.8 Z" fill="url(#gBlue)"/><path d="M827,549.82 L900.82,560.28 L900.82,571 L827,571 Z" fill="#5fe3fb" opacity="0.45"/><path d="M840.5,481.8 L840.16,485.13 L839.7,489.54 L839.16,494.8 L838.56,500.65 L837.92,506.84 L837.27,513.13 L836.62,519.27 L836,525 L835.36,530.76 L834.67,536.97 L833.94,543.38 L833.22,549.7 L832.53,555.69 L831.91,561.07 L831.39,565.6 L831,569" fill="none" stroke="#2a7b98" stroke-width="10.5"/><path d="M837.5,481.8 L905.23,481.8" fill="none" stroke="#355a68" stroke-width="11"/><path d="M828,569 L899.82,569" fill="none" stroke="#453838" stroke-width="11"/></g>
<path d="M898.01,-6 L914.5,-5.94 L914.5,-5.57 L914.51,-5.14 L914.52,-4.68 L914.52,-4.19 L914.53,-3.66 L914.54,-3.08 L914.54,-2.45 L914.53,-1.78 L914.52,-1.04 L914.5,-0.22 L914.48,0.71 L914.46,1.69 L914.44,2.7 L914.41,3.74 L914.38,4.83 L914.34,5.98 L914.29,7.19 L914.22,8.47 L914.13,9.84 L914.03,11.32 L913.9,12.96 L913.76,14.72 L913.6,16.58 L913.44,18.51 L913.26,20.5 L913.06,22.54 L912.85,24.59 L912.61,26.66 L912.36,28.71 L912.09,30.75 L911.78,32.84 L911.45,35.01 L911.1,37.24 L910.72,39.5 L910.33,41.78 L909.92,44.04 L909.5,46.27 L909.07,48.45 L908.64,50.56 L908.21,52.57 L907.78,54.48 L907.34,56.33 L906.89,58.13 L906.42,59.89 L905.95,61.63 L905.46,63.36 L904.96,65.09 L904.45,66.84 L903.92,68.6 L903.39,70.39 L902.84,72.17 L902.3,73.93 L901.74,75.68 L901.17,77.43 L900.59,79.18 L900,80.92 L899.4,82.67 L898.79,84.42 L898.17,86.18 L897.54,87.93 L896.9,89.67 L896.25,91.41 L895.58,93.15 L894.89,94.92 L894.19,96.69 L893.48,98.48 L892.77,100.27 L892.05,102.08 L891.33,103.91 L890.62,105.73 L889.92,107.52 L889.22,109.3 L888.52,111.08 L887.82,112.87 L887.12,114.66 L886.42,116.46 L885.71,118.27 L885,120.1 L884.29,121.95 L883.59,123.8 L882.88,125.65 L882.16,127.53 L881.43,129.44 L880.69,131.38 L879.95,133.33 L879.22,135.3 L878.49,137.28 L877.78,139.26 L877.1,141.25 L876.44,143.21 L875.83,145.11 L875.25,146.97 L874.7,148.81 L874.16,150.63 L873.64,152.46 L873.14,154.3 L872.65,156.16 L872.17,158.05 L871.7,159.99 L871.23,161.97 L870.77,164.01 L870.31,166.11 L869.85,168.24 L869.41,170.41 L868.98,172.61 L868.56,174.83 L868.16,177.05 L867.78,179.29 L867.42,181.51 L867.09,183.73 L866.79,185.95 L866.51,188.18 L866.26,190.4 L866.04,192.62 L865.83,194.82 L865.64,197 L865.47,199.15 L865.31,201.27 L865.16,203.35 L865.02,205.4 L864.89,207.43 L864.77,209.45 L864.67,211.44 L864.58,213.41 L864.5,215.36 L864.44,217.3 L864.38,219.22 L864.34,221.14 L864.32,223.05 L864.3,224.95 L864.3,226.85 L864.3,228.72 L864.32,230.57 L864.36,232.42 L864.4,234.25 L864.46,236.09 L864.53,237.93 L864.61,239.78 L864.71,241.65 L864.82,243.53 L864.93,245.44 L865.06,247.38 L865.21,249.34 L865.36,251.31 L865.53,253.29 L865.71,255.27 L865.9,257.25 L866.11,259.23 L866.33,261.19 L866.57,263.13 L866.82,265.04 L867.08,266.93 L867.36,268.81 L867.64,270.68 L867.95,272.54 L868.26,274.4 L868.6,276.25 L868.94,278.11 L869.31,279.97 L869.69,281.84 L870.09,283.72 L870.51,285.61 L870.95,287.48 L871.4,289.35 L871.87,291.21 L872.35,293.06 L872.83,294.91 L873.32,296.75 L873.82,298.58 L874.33,300.4 L874.83,302.22 L875.34,304.04 L875.86,305.87 L876.39,307.72 L876.94,309.58 L877.51,311.45 L878.1,313.33 L878.71,315.23 L879.36,317.14 L880.04,319.06 L880.75,320.99 L881.49,322.9 L882.25,324.8 L883.03,326.67 L883.82,328.53 L884.61,330.37 L885.4,332.19 L886.19,334 L886.97,335.79 L887.75,337.59 L888.56,339.44 L889.39,341.3 L890.22,343.14 L891.06,344.95 L891.88,346.75 L892.69,348.52 L893.47,350.26 L894.23,351.99 L894.96,353.69 L895.66,355.39 L896.36,357.13 L897.05,358.89 L897.74,360.65 L898.4,362.41 L899.05,364.15 L899.67,365.88 L900.27,367.59 L900.84,369.28 L901.38,370.95 L901.89,372.61 L902.38,374.26 L902.84,375.83 L903.26,377.33 L903.66,378.77 L904.02,380.21 L904.36,381.66 L904.69,383.16 L905,384.75 L905.3,386.46 L905.6,388.33 L905.88,390.36 L906.16,392.57 L906.42,394.93 L906.67,397.38 L906.9,399.92 L907.12,402.49 L907.32,405.07 L907.5,407.62 L907.67,410.12 L907.81,412.51 L907.94,414.82 L908.04,417.1 L908.11,419.36 L908.18,421.6 L908.22,423.84 L908.25,426.08 L908.27,428.31 L908.29,430.54 L908.29,432.78 L908.3,435.01 L908.3,437.19 L908.29,439.3 L908.27,441.38 L908.24,443.44 L908.2,445.51 L908.16,447.61 L908.1,449.76 L908.04,451.98 L907.98,454.3 L907.9,456.73 L907.82,459.27 L907.74,461.92 L907.64,464.67 L907.54,467.48 L907.43,470.33 L907.31,473.22 L907.19,476.1 L907.07,478.97 L906.94,481.8 L906.81,484.57 L906.68,487.29 L906.54,489.98 L906.4,492.66 L906.26,495.33 L906.11,497.99 L905.96,500.66 L905.8,503.33 L905.64,506.02 L905.48,508.73 L905.32,511.46 L905.15,514.22 L904.98,517.02 L904.8,519.85 L904.62,522.7 L904.43,525.54 L904.25,528.38 L904.06,531.2 L903.88,533.98 L903.7,536.72 L903.52,539.4 L903.35,542.02 L903.17,544.58 L903,547.1 L902.82,549.59 L902.65,552.06 L902.48,554.52 L902.31,556.98 L902.15,559.44 L901.98,561.92 L901.82,564.42 L901.66,566.95 L901.5,569.5 L901.35,572.05 L901.19,574.61 L901.04,577.16 L900.89,579.69 L900.74,582.19 L900.6,584.66 L900.46,587.09 L900.32,589.46 L900.28,590 L895.58,590 L895.62,589.18 L895.76,586.81 L895.91,584.39 L896.05,581.92 L896.2,579.41 L896.35,576.88 L896.5,574.33 L896.65,571.77 L896.81,569.21 L896.97,566.66 L897.13,564.12 L897.29,561.61 L897.46,559.13 L897.62,556.66 L897.79,554.2 L897.96,551.74 L898.14,549.27 L898.31,546.78 L898.48,544.26 L898.66,541.7 L898.83,539.09 L899.01,536.41 L899.19,533.67 L899.37,530.89 L899.56,528.07 L899.74,525.24 L899.92,522.39 L900.11,519.55 L900.28,516.73 L900.46,513.93 L900.62,511.18 L900.79,508.45 L900.95,505.74 L901.11,503.06 L901.26,500.39 L901.42,497.73 L901.56,495.07 L901.71,492.41 L901.85,489.74 L901.98,487.06 L902.12,484.35 L902.24,481.59 L902.37,478.77 L902.49,475.9 L902.61,473.02 L902.73,470.15 L902.84,467.3 L902.94,464.5 L903.04,461.76 L903.13,459.12 L903.21,456.58 L903.28,454.16 L903.34,451.85 L903.4,449.64 L903.46,447.5 L903.5,445.41 L903.54,443.36 L903.57,441.32 L903.59,439.27 L903.6,437.18 L903.6,435.02 L903.59,432.79 L903.59,430.56 L903.57,428.34 L903.55,426.13 L903.52,423.92 L903.48,421.71 L903.42,419.5 L903.34,417.28 L903.24,415.05 L903.12,412.78 L902.98,410.41 L902.81,407.94 L902.63,405.41 L902.44,402.87 L902.22,400.33 L901.99,397.84 L901.75,395.42 L901.49,393.12 L901.23,390.98 L900.95,389.02 L900.67,387.24 L900.38,385.61 L900.08,384.11 L899.78,382.69 L899.46,381.33 L899.11,379.97 L898.74,378.58 L898.32,377.13 L897.87,375.59 L897.39,373.98 L896.89,372.36 L896.37,370.76 L895.82,369.12 L895.24,367.45 L894.63,365.76 L894,364.06 L893.35,362.33 L892.68,360.6 L891.99,358.86 L891.31,357.15 L890.63,355.51 L889.92,353.86 L889.18,352.18 L888.41,350.46 L887.61,348.7 L886.78,346.91 L885.95,345.09 L885.1,343.23 L884.26,341.34 L883.44,339.46 L882.66,337.66 L881.88,335.88 L881.09,334.07 L880.29,332.24 L879.49,330.38 L878.69,328.49 L877.9,326.57 L877.12,324.63 L876.36,322.65 L875.62,320.66 L874.92,318.67 L874.25,316.71 L873.62,314.76 L873.02,312.83 L872.44,310.92 L871.88,309.03 L871.34,307.16 L870.82,305.31 L870.3,303.48 L869.8,301.66 L869.29,299.83 L868.79,297.98 L868.29,296.12 L867.8,294.25 L867.31,292.36 L866.84,290.47 L866.38,288.57 L865.93,286.65 L865.5,284.73 L865.09,282.8 L864.7,280.89 L864.33,278.99 L863.97,277.1 L863.63,275.21 L863.31,273.31 L863,271.41 L862.71,269.51 L862.43,267.59 L862.16,265.67 L861.91,263.72 L861.67,261.74 L861.44,259.74 L861.23,257.73 L861.03,255.71 L860.85,253.7 L860.68,251.69 L860.52,249.69 L860.38,247.71 L860.24,245.75 L860.12,243.81 L860.02,241.9 L859.92,240 L859.84,238.12 L859.76,236.25 L859.71,234.39 L859.66,232.52 L859.63,230.64 L859.6,228.75 L859.6,226.85 L859.6,224.93 L859.62,222.99 L859.64,221.06 L859.68,219.11 L859.74,217.16 L859.8,215.19 L859.88,213.21 L859.97,211.21 L860.08,209.19 L860.2,207.15 L860.33,205.09 L860.47,203.03 L860.62,200.93 L860.78,198.78 L860.96,196.6 L861.15,194.39 L861.36,192.16 L861.59,189.9 L861.85,187.63 L862.13,185.35 L862.44,183.07 L862.77,180.8 L863.14,178.52 L863.53,176.24 L863.93,173.97 L864.36,171.72 L864.8,169.48 L865.25,167.28 L865.71,165.11 L866.18,162.99 L866.65,160.92 L867.13,158.89 L867.61,156.92 L868.1,154.98 L868.6,153.08 L869.11,151.2 L869.65,149.33 L870.19,147.46 L870.76,145.59 L871.35,143.69 L871.98,141.75 L872.64,139.74 L873.35,137.7 L874.07,135.68 L874.81,133.67 L875.55,131.68 L876.3,129.7 L877.04,127.76 L877.78,125.85 L878.49,123.98 L879.19,122.13 L879.9,120.27 L880.62,118.41 L881.33,116.57 L882.04,114.75 L882.74,112.94 L883.45,111.15 L884.15,109.36 L884.84,107.59 L885.54,105.81 L886.24,104.02 L886.96,102.19 L887.68,100.35 L888.4,98.54 L889.12,96.74 L889.82,94.96 L890.52,93.2 L891.2,91.46 L891.86,89.74 L892.5,88.03 L893.12,86.33 L893.74,84.6 L894.35,82.87 L894.96,81.14 L895.55,79.41 L896.13,77.69 L896.7,75.96 L897.26,74.24 L897.81,72.51 L898.35,70.78 L898.89,69.03 L899.42,67.26 L899.95,65.5 L900.45,63.78 L900.94,62.08 L901.42,60.38 L901.88,58.68 L902.33,56.96 L902.77,55.21 L903.2,53.42 L903.62,51.56 L904.04,49.6 L904.46,47.53 L904.88,45.39 L905.29,43.19 L905.7,40.96 L906.09,38.72 L906.46,36.49 L906.81,34.29 L907.14,32.15 L907.43,30.1 L907.7,28.11 L907.95,26.11 L908.17,24.09 L908.38,22.06 L908.58,20.06 L908.76,18.1 L908.92,16.19 L909.07,14.34 L909.21,12.59 L909.34,10.97 L909.44,9.52 L909.53,8.2 L909.59,6.96 L909.64,5.79 L909.68,4.68 L909.71,3.62 L909.74,2.59 L909.76,1.59 L909.78,0.6 L909.8,-0.33 L909.82,-1.13 L909.83,-1.82 L909.84,-2.47 L909.84,-3.06 L909.83,-3.61 L909.83,-4.12 L909.82,-4.6 L909.81,-5.06 L909.8,-5.52 L909.8,-5.91 L893.31,-6 Z" fill="#5e261c"/><path d="M923.5,-6 L923.5,-5.67 L923.51,-5.28 L923.52,-4.83 L923.52,-4.32 L923.53,-3.75 L923.54,-3.12 L923.54,-2.43 L923.53,-1.68 L923.52,-0.87 L923.5,0 L923.48,0.92 L923.46,1.89 L923.43,2.91 L923.41,3.98 L923.38,5.12 L923.33,6.34 L923.28,7.62 L923.2,8.99 L923.11,10.45 L923,12 L922.87,13.66 L922.73,15.45 L922.57,17.33 L922.4,19.3 L922.22,21.34 L922.02,23.44 L921.79,25.56 L921.55,27.71 L921.29,29.86 L921,32 L920.69,34.17 L920.34,36.4 L919.98,38.69 L919.59,41.01 L919.19,43.34 L918.77,45.67 L918.34,47.97 L917.9,50.22 L917.45,52.4 L917,54.5 L916.55,56.51 L916.08,58.46 L915.61,60.36 L915.12,62.21 L914.62,64.03 L914.12,65.83 L913.61,67.61 L913.08,69.4 L912.55,71.19 L912,73 L911.44,74.82 L910.88,76.63 L910.31,78.44 L909.72,80.24 L909.12,82.03 L908.52,83.82 L907.9,85.62 L907.28,87.41 L906.64,89.2 L906,91 L905.34,92.8 L904.66,94.6 L903.97,96.4 L903.27,98.2 L902.56,100 L901.85,101.8 L901.13,103.6 L900.42,105.4 L899.7,107.2 L899,109 L898.3,110.8 L897.6,112.58 L896.9,114.37 L896.2,116.15 L895.5,117.94 L894.8,119.73 L894.1,121.53 L893.4,123.34 L892.7,125.16 L892,127 L891.29,128.86 L890.57,130.75 L889.84,132.66 L889.1,134.58 L888.38,136.5 L887.66,138.42 L886.95,140.34 L886.27,142.25 L885.62,144.14 L885,146 L884.41,147.83 L883.86,149.62 L883.32,151.38 L882.81,153.13 L882.31,154.88 L881.83,156.63 L881.36,158.41 L880.9,160.22 L880.45,162.08 L880,164 L879.55,165.98 L879.1,168.01 L878.66,170.08 L878.23,172.18 L877.81,174.31 L877.41,176.46 L877.02,178.61 L876.66,180.75 L876.31,182.89 L876,185 L875.71,187.11 L875.45,189.23 L875.21,191.36 L874.99,193.5 L874.79,195.62 L874.61,197.74 L874.44,199.85 L874.28,201.93 L874.14,203.98 L874,206 L873.87,207.99 L873.76,209.94 L873.66,211.88 L873.57,213.79 L873.49,215.69 L873.43,217.57 L873.38,219.44 L873.34,221.3 L873.32,223.15 L873.3,225 L873.3,226.84 L873.3,228.65 L873.32,230.44 L873.36,232.22 L873.4,234 L873.46,235.78 L873.52,237.56 L873.6,239.35 L873.7,241.16 L873.8,243 L873.92,244.86 L874.04,246.75 L874.18,248.66 L874.33,250.58 L874.49,252.5 L874.67,254.42 L874.86,256.34 L875.06,258.25 L875.27,260.14 L875.5,262 L875.74,263.84 L875.99,265.66 L876.26,267.47 L876.53,269.27 L876.83,271.06 L877.13,272.85 L877.45,274.63 L877.78,276.42 L878.13,278.2 L878.5,280 L878.88,281.8 L879.29,283.6 L879.71,285.4 L880.14,287.2 L880.59,289 L881.06,290.8 L881.53,292.6 L882.01,294.4 L882.5,296.2 L883,298 L883.5,299.8 L884,301.6 L884.51,303.4 L885.03,305.2 L885.56,307 L886.11,308.8 L886.67,310.6 L887.26,312.4 L887.86,314.2 L888.5,316 L889.17,317.8 L889.86,319.6 L890.59,321.4 L891.33,323.2 L892.09,325 L892.87,326.8 L893.65,328.6 L894.44,330.4 L895.22,332.2 L896,334 L896.79,335.8 L897.59,337.6 L898.41,339.4 L899.24,341.2 L900.06,343 L900.88,344.8 L901.69,346.6 L902.49,348.4 L903.26,350.2 L904,352 L904.72,353.8 L905.44,355.62 L906.14,357.43 L906.83,359.25 L907.5,361.06 L908.15,362.87 L908.78,364.67 L909.38,366.46 L909.96,368.24 L910.5,370 L911.01,371.7 L911.49,373.34 L911.94,374.92 L912.36,376.49 L912.76,378.06 L913.14,379.67 L913.5,381.34 L913.85,383.1 L914.18,384.98 L914.5,387 L914.81,389.19 L915.1,391.52 L915.37,393.98 L915.63,396.52 L915.87,399.12 L916.09,401.76 L916.3,404.4 L916.48,407 L916.65,409.55 L916.8,412 L916.93,414.39 L917.03,416.74 L917.11,419.08 L917.17,421.39 L917.22,423.69 L917.25,425.97 L917.27,428.24 L917.29,430.5 L917.29,432.75 L917.3,435 L917.3,437.21 L917.29,439.37 L917.27,441.48 L917.24,443.58 L917.2,445.69 L917.15,447.82 L917.1,449.99 L917.04,452.23 L916.97,454.56 L916.9,457 L916.82,459.56 L916.73,462.23 L916.63,464.99 L916.53,467.82 L916.42,470.69 L916.3,473.58 L916.18,476.48 L916.06,479.37 L915.93,482.21 L915.8,485 L915.67,487.74 L915.53,490.45 L915.39,493.14 L915.24,495.82 L915.09,498.5 L914.94,501.18 L914.78,503.86 L914.63,506.55 L914.46,509.26 L914.3,512 L914.13,514.77 L913.96,517.58 L913.78,520.42 L913.6,523.27 L913.41,526.12 L913.23,528.97 L913.04,531.79 L912.86,534.58 L912.68,537.32 L912.5,540 L912.33,542.62 L912.15,545.19 L911.98,547.72 L911.8,550.22 L911.63,552.69 L911.46,555.14 L911.29,557.59 L911.13,560.05 L910.96,562.51 L910.8,565 L910.64,567.51 L910.48,570.05 L910.33,572.59 L910.18,575.14 L910.02,577.69 L909.88,580.22 L909.73,582.72 L909.58,585.19 L909.44,587.62 L909.3,590 L909.16,592.31 L909.02,594.56 L908.89,596.76 L908.75,598.92 L908.62,601.06 L908.49,603.2 L908.36,605.35 L908.24,607.52 L908.12,609.73 L908,612 L907.88,614.43 L907.76,617.06 L907.65,619.81 L907.53,622.61 L907.42,625.38 L907.31,628.03 L907.22,630.5 L907.13,632.7 L907.06,634.56 L907,636 L898.01,636 L898.01,635.64 L898.07,634.21 L898.14,632.35 L898.22,630.15 L898.32,627.68 L898.43,625.02 L898.54,622.24 L898.65,619.43 L898.77,616.66 L898.89,614.01 L899.01,611.55 L899.13,609.26 L899.25,607.02 L899.38,604.83 L899.5,602.66 L899.64,600.51 L899.77,598.36 L899.9,596.2 L900.04,594 L900.18,591.77 L900.32,589.46 L900.46,587.09 L900.6,584.66 L900.74,582.19 L900.89,579.69 L901.04,577.16 L901.19,574.61 L901.35,572.05 L901.5,569.5 L901.66,566.95 L901.82,564.42 L901.98,561.92 L902.15,559.44 L902.31,556.98 L902.48,554.52 L902.65,552.06 L902.82,549.59 L903,547.1 L903.17,544.58 L903.35,542.02 L903.52,539.4 L903.7,536.72 L903.88,533.98 L904.06,531.2 L904.25,528.38 L904.43,525.54 L904.62,522.7 L904.8,519.85 L904.98,517.02 L905.15,514.22 L905.32,511.46 L905.48,508.73 L905.64,506.02 L905.8,503.33 L905.96,500.66 L906.11,497.99 L906.26,495.33 L906.4,492.66 L906.54,489.98 L906.68,487.29 L906.81,484.57 L906.94,481.8 L907.07,478.97 L907.19,476.1 L907.31,473.22 L907.43,470.33 L907.54,467.48 L907.64,464.67 L907.74,461.92 L907.82,459.27 L907.9,456.73 L907.98,454.3 L908.04,451.98 L908.1,449.76 L908.16,447.61 L908.2,445.51 L908.24,443.44 L908.27,441.38 L908.29,439.3 L908.3,437.19 L908.3,435.01 L908.29,432.78 L908.29,430.54 L908.27,428.31 L908.25,426.08 L908.22,423.84 L908.18,421.6 L908.11,419.36 L908.04,417.1 L907.94,414.82 L907.81,412.51 L907.67,410.12 L907.5,407.62 L907.32,405.07 L907.12,402.49 L906.9,399.92 L906.67,397.38 L906.42,394.93 L906.16,392.57 L905.88,390.36 L905.6,388.33 L905.3,386.46 L905,384.75 L904.69,383.16 L904.36,381.66 L904.02,380.21 L903.66,378.77 L903.26,377.33 L902.84,375.83 L902.38,374.26 L901.89,372.61 L901.38,370.95 L900.84,369.28 L900.27,367.59 L899.67,365.88 L899.05,364.15 L898.4,362.41 L897.74,360.65 L897.05,358.89 L896.36,357.13 L895.66,355.39 L894.96,353.69 L894.23,351.99 L893.47,350.26 L892.69,348.52 L891.88,346.75 L891.06,344.95 L890.22,343.14 L889.39,341.3 L888.56,339.44 L887.75,337.59 L886.97,335.79 L886.19,334 L885.4,332.19 L884.61,330.37 L883.82,328.53 L883.03,326.67 L882.25,324.8 L881.49,322.9 L880.75,320.99 L880.04,319.06 L879.36,317.14 L878.71,315.23 L878.1,313.33 L877.51,311.45 L876.94,309.58 L876.39,307.72 L875.86,305.87 L875.34,304.04 L874.83,302.22 L874.33,300.4 L873.82,298.58 L873.32,296.75 L872.83,294.91 L872.35,293.06 L871.87,291.21 L871.4,289.35 L870.95,287.48 L870.51,285.61 L870.09,283.72 L869.69,281.84 L869.31,279.97 L868.94,278.11 L868.6,276.25 L868.26,274.4 L867.95,272.54 L867.64,270.68 L867.36,268.81 L867.08,266.93 L866.82,265.04 L866.57,263.13 L866.33,261.19 L866.11,259.23 L865.9,257.25 L865.71,255.27 L865.53,253.29 L865.36,251.31 L865.21,249.34 L865.06,247.38 L864.93,245.44 L864.82,243.53 L864.71,241.65 L864.61,239.78 L864.53,237.93 L864.46,236.09 L864.4,234.25 L864.36,232.42 L864.32,230.57 L864.3,228.72 L864.3,226.85 L864.3,224.95 L864.32,223.05 L864.34,221.14 L864.38,219.22 L864.44,217.3 L864.5,215.36 L864.58,213.41 L864.67,211.44 L864.77,209.45 L864.89,207.43 L865.02,205.4 L865.16,203.35 L865.31,201.27 L865.47,199.15 L865.64,197 L865.83,194.82 L866.04,192.62 L866.26,190.4 L866.51,188.18 L866.79,185.95 L867.09,183.73 L867.42,181.51 L867.78,179.29 L868.16,177.05 L868.56,174.83 L868.98,172.61 L869.41,170.41 L869.85,168.24 L870.31,166.11 L870.77,164.01 L871.23,161.97 L871.7,159.99 L872.17,158.05 L872.65,156.16 L873.14,154.3 L873.64,152.46 L874.16,150.63 L874.7,148.81 L875.25,146.97 L875.83,145.11 L876.44,143.21 L877.1,141.25 L877.78,139.26 L878.49,137.28 L879.22,135.3 L879.95,133.33 L880.69,131.38 L881.43,129.44 L882.16,127.53 L882.88,125.65 L883.59,123.8 L884.29,121.95 L885,120.1 L885.71,118.27 L886.42,116.46 L887.12,114.66 L887.82,112.87 L888.52,111.08 L889.22,109.3 L889.92,107.52 L890.62,105.73 L891.33,103.91 L892.05,102.08 L892.77,100.27 L893.48,98.48 L894.19,96.69 L894.89,94.92 L895.58,93.15 L896.25,91.41 L896.9,89.67 L897.54,87.93 L898.17,86.18 L898.79,84.42 L899.4,82.67 L900,80.92 L900.59,79.18 L901.17,77.43 L901.74,75.68 L902.3,73.93 L902.84,72.17 L903.39,70.39 L903.92,68.6 L904.45,66.84 L904.96,65.09 L905.46,63.36 L905.95,61.63 L906.42,59.89 L906.89,58.13 L907.34,56.33 L907.78,54.48 L908.21,52.57 L908.64,50.56 L909.07,48.45 L909.5,46.27 L909.92,44.04 L910.33,41.78 L910.72,39.5 L911.1,37.24 L911.45,35.01 L911.78,32.84 L912.09,30.75 L912.36,28.71 L912.61,26.66 L912.85,24.59 L913.06,22.54 L913.26,20.5 L913.44,18.51 L913.6,16.58 L913.76,14.72 L913.9,12.96 L914.03,11.32 L914.13,9.84 L914.22,8.47 L914.29,7.19 L914.34,5.98 L914.38,4.83 L914.41,3.74 L914.44,2.7 L914.46,1.69 L914.48,0.71 L914.5,-0.22 L914.52,-1.04 L914.53,-1.78 L914.54,-2.45 L914.54,-3.08 L914.53,-3.66 L914.52,-4.19 L914.52,-4.68 L914.51,-5.14 L914.5,-5.57 L914.5,-5.94 L898.01,-6 Z" fill="#dd3a18"/><path d="M852.3,585.5 L910.1,585.5 L910.1,636.7 L901.5,636.7 L901.5,680 L900,681.7 L870.8,681.7 L870.8,638.3 L852.3,638.3 Z" fill="#dd3a18"/><path d="M878.4,585.5 L885.7,585.5 L885.7,604.5 L880.8,609 L880.8,672 L878.4,672 Z" fill="#66291c"/><path d="M878.4,669.7 L893,669.7 L893,672.2 L878.4,672.2 Z" fill="#66291c"/><path d="M888.9,617 L893,615 L893,672 L888.9,672 Z" fill="#66291c"/><path d="M890.5,616.5 L901.1,609.6 L901.1,630.4 L890.5,630.4 Z" fill="#66291c"/><path d="M889.8,619 C889.8,611.5 893.5,607.5 900.7,604.8" fill="none" stroke="#66291c" stroke-width="1.9"/><path d="M895.1,593.3 L900.9,593.3 L900.9,603.4 L895.1,603.4 Z" fill="#66291c"/><path d="M909.6,604 L909.6,636.7 L901.8,636.7 L901.8,650" fill="none" stroke="#66291c" stroke-width="1.1" stroke-opacity="0.8"/><path d="M898.5,681.8 L898.5,695.5 C898.5,701 897.5,704 896.5,706 C893.5,714 885.5,723 876,729.5 C868.5,733.5 858.5,736.5 848.8,739 C845.5,741 844.5,746 840.5,748.3 C837.5,750 831.5,750 828.5,748 C825,745.5 824.5,741 821.5,738.4 L799.7,738.4 C797,741 796.5,745.5 793,748 C789.5,750 784.5,750 781.5,748 C777.5,745 776,741 772.7,738.2" fill="none" stroke="#b6b6b6" stroke-width="1.15"/></g>
<path d="M472,249.4 L533.8,249.4 L533.8,231.7 L579.4,261 L533.8,290.3 L533.8,272.6 L472,272.6 Z" fill="#0f9ae3"/><path d="M774.5,116.6 L822,116.6 L822,102.4 L859,126 L822,149.6 L822,135.4 L774.5,135.4 Z" fill="#e6352a" stroke="#5a2620" stroke-width="1" stroke-linejoin="miter"/><path d="M764.5,253.4 L812,253.4 L812,239.2 L849,262.8 L812,286.4 L812,272.2 L764.5,272.2 Z" fill="#e6352a" stroke="#5a2620" stroke-width="1" stroke-linejoin="miter"/><path d="M791.8,396.9 L840,396.9 L840,382.7 L876.4,406.3 L840,429.9 L840,415.7 L791.8,415.7 Z" fill="#e6352a" stroke="#5a2620" stroke-width="1" stroke-linejoin="miter"/><path d="M774.6,515.1 L822.8,515.1 L822.8,500.9 L859.4,524.5 L822.8,548.1 L822.8,533.9 L774.6,533.9 Z" fill="#e6352a" stroke="#5a2620" stroke-width="1" stroke-linejoin="miter"/><g font-family="Liberation Sans, sans-serif" font-size="35" fill="#161616" stroke="#ffffff" stroke-width="0.5"><text transform="translate(78.4,965) scale(1.16,1)" x="-1" y="0" letter-spacing="1.7">Завдяки</text><text transform="translate(261,965) scale(1.16,1)" x="-2" y="0" letter-spacing="2.32">повітряним</text><text transform="translate(508.6,965) scale(1.16,1)" x="-2" y="0" letter-spacing="1.57">камерам</text><text transform="translate(699.4,965) scale(1.16,1)" x="-2" y="0" letter-spacing="0.81">матеріал</text><text transform="translate(889,965) scale(1.16,1)" x="-2" y="0" letter-spacing="0.97">щільно</text><text transform="translate(160,1014) scale(1.16,1)" x="-2" y="0" letter-spacing="2.14">прилягає</text><text transform="translate(356,1014) scale(1.16,1)" x="0" y="0" letter-spacing="-0.21">до</text><text transform="translate(419,1014) scale(1.16,1)" x="-2" y="0" letter-spacing="0.14">пеніса</text><text transform="translate(553.6,1014) scale(1.16,1)" x="-1" y="0" letter-spacing="-0.78">за</text><text transform="translate(609.5,1014) scale(1.16,1)" x="-2" y="0" letter-spacing="1.63">всією</text><text transform="translate(728.5,1014) scale(1.16,1)" x="0" y="0" letter-spacing="2.66">довжиною</text></g></svg>
</body></html>
